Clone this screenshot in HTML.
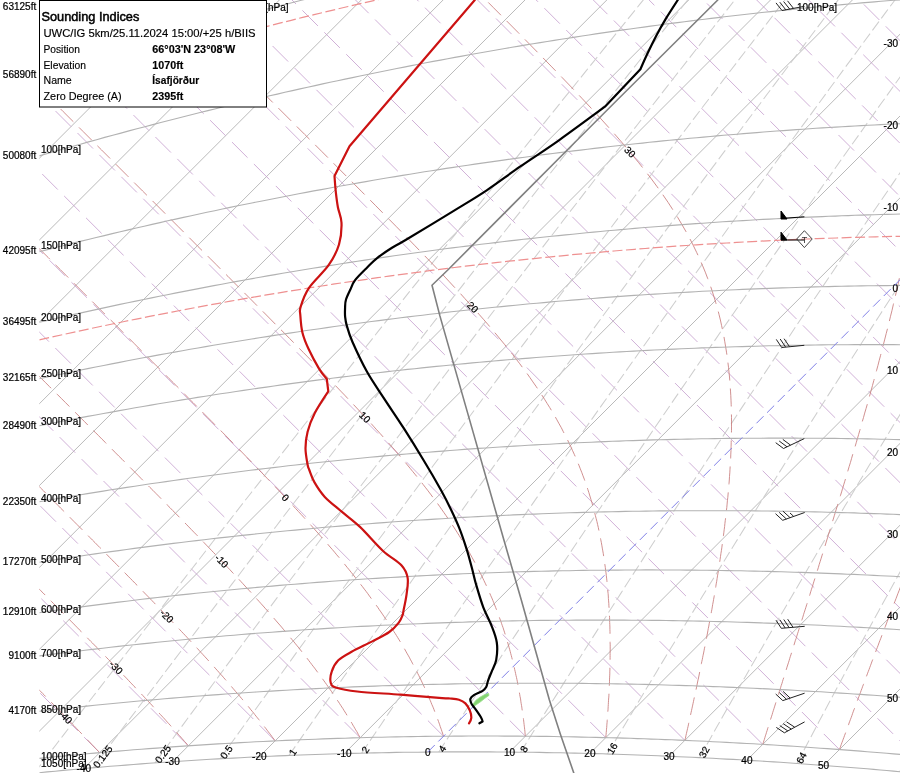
<!DOCTYPE html><html><head><meta charset="utf-8"><style>html,body{margin:0;padding:0;background:#fff;width:900px;height:773px;overflow:hidden}svg{display:block;will-change:transform;font-family:"Liberation Sans",sans-serif}</style></head><body>
<svg width="900" height="773" viewBox="0 0 900 773">
<defs><clipPath id="c"><path d="M39.3 -5 L905 -5 L905 772.2 L905 772.2 L890 770.8 L874.9 769.5 L859.8 768.2 L844.7 767 L829.5 765.8 L814.2 764.7 L799 763.6 L783.6 762.6 L768.3 761.6 L752.9 760.6 L737.4 759.7 L721.9 758.8 L706.4 758 L690.8 757.2 L675.1 756.5 L659.4 755.8 L643.7 755.2 L627.9 754.6 L612 754.1 L596.1 753.7 L580.2 753.2 L564.2 752.9 L548.1 752.6 L532 752.3 L515.8 752.1 L499.6 752 L483.3 751.9 L466.9 751.9 L450.5 751.9 L434.1 752 L417.6 752.2 L401 752.4 L384.3 752.7 L367.6 753 L350.8 753.4 L334 753.9 L317.1 754.4 L300.1 755 L283.1 755.7 L266 756.4 L248.8 757.2 L231.5 758.1 L214.2 759.1 L196.8 760.1 L179.3 761.2 L161.8 762.4 L144.1 763.7 L126.4 765 L108.6 766.4 L90.8 767.9 L72.8 769.5 L54.8 771.2 L39.3 772.7 Z"/></clipPath><clipPath id="c2"><rect x="39.3" y="0" width="900" height="773"/></clipPath></defs>
<g clip-path="url(#c)" fill="none">
<g stroke="#a8a8a8" stroke-width="0.8"><path d="M-1230 1100.2 L-124.8 -5"/><path d="M-1092.7 1044.7 L-43 -5"/><path d="M-962.9 996.8 L38.9 -5"/><path d="M-839.6 955.3 L120.7 -5"/><path d="M-721.8 919.4 L202.6 -5"/><path d="M-608.9 888.3 L284.4 -5"/><path d="M-500.3 861.6 L366.3 -5"/><path d="M-395.5 838.6 L448.1 -5"/><path d="M-294.1 819 L530 -5"/><path d="M-195.7 802.5 L611.8 -5"/><path d="M-100.1 788.8 L693.7 -5"/><path d="M-7 777.5 L775.5 -5"/><path d="M83.8 768.5 L857.4 -5"/><path d="M172.5 761.7 L939.2 -5"/><path d="M259.3 756.7 L1021 -5"/><path d="M344.3 753.6 L1102.9 -5"/><path d="M509.5 752.1 L1266.6 -5"/><path d="M589.9 753.5 L1348.4 -5"/><path d="M669 756.2 L1430.3 -5"/><path d="M746.9 760.2 L1512.1 -5"/><path d="M823.6 765.4 L1594 -5"/><path d="M899.2 771.6 L1675.8 -5"/></g>
<g stroke="#c8a2d0" stroke-width="0.85" stroke-dasharray="22 9"><path d="M-84.2 772.9 L34.3 891.4"/><path d="M8.9 761.6 L34.3 787.1"/><path d="M99.7 752.7 L34.3 687.3"/><path d="M188.4 745.8 L34.3 591.7"/><path d="M275.2 740.9 L34.3 500"/><path d="M360.2 737.7 L34.3 411.8"/><path d="M443.5 736.2 L34.3 327"/><path d="M525.4 736.2 L34.3 245.1"/><path d="M605.8 737.6 L34.3 166.1"/><path d="M684.9 740.4 L34.3 89.8"/><path d="M762.8 744.4 L34.3 15.9"/><path d="M839.4 749.5 L84.9 -5"/><path d="M915 755.8 L154.3 -5"/><path d="M989.6 763 L221.6 -5"/><path d="M1063.2 771.3 L287 -5"/><path d="M1135.9 780.4 L350.5 -5"/><path d="M1207.8 790.4 L412.3 -5"/><path d="M1278.8 801.3 L472.5 -5"/><path d="M1349 812.9 L531.2 -5"/><path d="M1418.5 825.2 L588.3 -5"/><path d="M1487.3 838.3 L644.1 -5"/><path d="M1555.5 852 L698.5 -5"/><path d="M1623 866.3 L751.7 -5"/><path d="M1689.9 881.3 L803.6 -5"/><path d="M1756.2 896.8 L854.4 -5"/><path d="M1822 912.9 L904.1 -5"/><path d="M1887.2 929.5 L952.7 -5"/><path d="M1951.9 946.6 L1000.3 -5"/></g>
<g stroke="#cecece" stroke-width="1.05" stroke-dasharray="11 4"><path d="M34.2 773.2 L41.6 763.5 L49 753.9 L56.4 744.2 L63.8 734.6 L71.2 725 L78.6 715.3 L86 705.7 L93.4 696 L100.9 686.4 L108.3 676.7 L115.7 667.1 L123.2 657.4 L130.6 647.8 L138.1 638.2 L145.5 628.5 L153 618.9 L160.4 609.3 L167.9 599.6 L175.4 590 L182.9 580.4 L190.4 570.7 L197.9 561.1 L205.3 551.5 L212.8 541.8 L220.4 532.2 L227.9 522.6 L235.4 512.9 L242.9 503.3 L250.4 493.7 L258 484.1 L265.5 474.4 L273 464.8 L280.6 455.2 L288.1 445.6 L295.7 436 L303.2 426.3 L310.8 416.7 L318.4 407.1 L325.9 397.5 L333.5 387.9 L341.1 378.2 L348.7 368.6 L356.3 359 L363.9 349.4 L371.5 339.8 L379.1 330.2 L386.7 320.6 L394.3 311 L401.9 301.3 L409.5 291.7 L417.2 282.1 L424.8 272.5 L432.4 262.9 L440.1 253.3 L447.7 243.7 L455.4 234.1 L463 224.5 L470.7 214.9 L478.4 205.3 L486 195.7 L493.7 186.1 L501.4 176.5 L509.1 166.9 L516.7 157.3 L524.4 147.7 L532.1 138.1 L539.8 128.5 L547.5 118.9 L555.2 109.3 L562.9 99.7 L570.7 90.1 L578.4 80.5 L586.1 70.9 L593.8 61.3 L601.6 51.7 L609.3 42.1 L617 32.5 L624.8 22.9 L632.5 13.3 L640.3 3.7 L648 -5.9 L655.8 -15.5 L663.6 -25 L671.3 -34.6 L679.1 -44.2 L686.9 -53.8 L694.7 -63.4 L702.5 -73 L710.2 -82.6 L718 -92.2 L725.8 -101.8 L733.6 -111.3 L741.4 -120.9 L749.3 -130.5 L757.1 -140.1 L764.9 -149.7 L772.7 -159.3 L780.5 -168.8 L788.4 -178.4 L796.2 -188 L804 -197.6 L811.9 -207.2 L819.7 -216.7 L827.6 -226.3 L835.4 -235.9 L843.3 -245.5 L851.1 -255.1 L859 -264.6 L866.8 -274.2 L874.7 -283.8 L882.6 -293.4 L890.5 -302.9 L898.3 -312.5 L906.2 -322.1 L914.1 -331.7 L922 -341.2 L929.9 -350.8 L937.8 -360.4 L945.7 -370 L953.6 -379.5 L961.5 -389.1 L969.4 -398.7 L977.4 -408.3 L985.3 -417.8 L993.2 -427.4 L1001.1 -437 L1009.1 -446.5 L1017 -456.1 L1024.9 -465.7 L1032.9 -475.3"/><path d="M93.1 767.7 L100.3 758.1 L107.6 748.4 L114.9 738.7 L122.1 729 L129.4 719.4 L136.7 709.7 L144 700 L151.3 690.4 L158.6 680.7 L165.9 671 L173.2 661.4 L180.5 651.7 L187.8 642.1 L195.2 632.4 L202.5 622.7 L209.8 613.1 L217.2 603.4 L224.5 593.8 L231.9 584.1 L239.3 574.5 L246.6 564.8 L254 555.1 L261.4 545.5 L268.8 535.8 L276.2 526.2 L283.5 516.5 L290.9 506.9 L298.3 497.3 L305.8 487.6 L313.2 478 L320.6 468.3 L328 458.7 L335.5 449 L342.9 439.4 L350.3 429.8 L357.8 420.1 L365.2 410.5 L372.7 400.8 L380.1 391.2 L387.6 381.6 L395.1 371.9 L402.6 362.3 L410 352.7 L417.5 343 L425 333.4 L432.5 323.8 L440 314.1 L447.5 304.5 L455 294.9 L462.6 285.3 L470.1 275.6 L477.6 266 L485.1 256.4 L492.7 246.8 L500.2 237.1 L507.8 227.5 L515.3 217.9 L522.9 208.3 L530.4 198.6 L538 189 L545.6 179.4 L553.1 169.8 L560.7 160.2 L568.3 150.6 L575.9 140.9 L583.5 131.3 L591.1 121.7 L598.7 112.1 L606.3 102.5 L613.9 92.9 L621.5 83.3 L629.1 73.7 L636.8 64 L644.4 54.4 L652 44.8 L659.7 35.2 L667.3 25.6 L674.9 16 L682.6 6.4 L690.3 -3.2 L697.9 -12.8 L705.6 -22.4 L713.2 -32 L720.9 -41.6 L728.6 -51.2 L736.3 -60.8 L744 -70.4 L751.7 -80 L759.4 -89.6 L767.1 -99.2 L774.8 -108.8 L782.5 -118.4 L790.2 -128 L797.9 -137.6 L805.6 -147.2 L813.3 -156.8 L821.1 -166.4 L828.8 -176 L836.5 -185.6 L844.3 -195.2 L852 -204.8 L859.8 -214.4 L867.5 -224 L875.3 -233.6 L883 -243.1 L890.8 -252.7 L898.6 -262.3 L906.4 -271.9 L914.1 -281.5 L921.9 -291.1 L929.7 -300.7 L937.5 -310.3 L945.3 -319.8 L953.1 -329.4 L960.9 -339 L968.7 -348.6 L976.5 -358.2 L984.3 -367.8 L992.1 -377.4 L1000 -386.9 L1007.8 -396.5 L1015.6 -406.1 L1023.4 -415.7 L1031.3 -425.3 L1039.1 -434.8 L1047 -444.4 L1054.8 -454 L1062.7 -463.6 L1070.5 -473.2 L1078.4 -482.7"/><path d="M155 762.9 L162.1 753.2 L169.2 743.5 L176.3 733.8 L183.5 724.1 L190.6 714.4 L197.8 704.7 L204.9 695 L212.1 685.3 L219.2 675.6 L226.4 665.9 L233.6 656.2 L240.8 646.5 L248 636.8 L255.2 627.2 L262.4 617.5 L269.6 607.8 L276.8 598.1 L284 588.4 L291.2 578.7 L298.5 569.1 L305.7 559.4 L312.9 549.7 L320.2 540 L327.5 530.4 L334.7 520.7 L342 511 L349.3 501.3 L356.5 491.7 L363.8 482 L371.1 472.3 L378.4 462.7 L385.7 453 L393 443.3 L400.3 433.7 L407.6 424 L415 414.4 L422.3 404.7 L429.6 395 L437 385.4 L444.3 375.7 L451.7 366.1 L459 356.4 L466.4 346.8 L473.8 337.1 L481.1 327.4 L488.5 317.8 L495.9 308.1 L503.3 298.5 L510.7 288.8 L518.1 279.2 L525.5 269.6 L532.9 259.9 L540.3 250.3 L547.7 240.6 L555.2 231 L562.6 221.3 L570 211.7 L577.5 202.1 L584.9 192.4 L592.4 182.8 L599.8 173.1 L607.3 163.5 L614.8 153.9 L622.2 144.2 L629.7 134.6 L637.2 125 L644.7 115.3 L652.2 105.7 L659.7 96.1 L667.2 86.4 L674.7 76.8 L682.2 67.2 L689.7 57.6 L697.3 47.9 L704.8 38.3 L712.3 28.7 L719.9 19.1 L727.4 9.4 L734.9 -0.2 L742.5 -9.8 L750 -19.4 L757.6 -29 L765.2 -38.7 L772.7 -48.3 L780.3 -57.9 L787.9 -67.5 L795.5 -77.1 L803.1 -86.7 L810.7 -96.4 L818.3 -106 L825.9 -115.6 L833.5 -125.2 L841.1 -134.8 L848.7 -144.4 L856.3 -154 L864 -163.6 L871.6 -173.3 L879.2 -182.9 L886.9 -192.5 L894.5 -202.1 L902.2 -211.7 L909.8 -221.3 L917.5 -230.9 L925.1 -240.5 L932.8 -250.1 L940.5 -259.7 L948.1 -269.3 L955.8 -278.9 L963.5 -288.5 L971.2 -298.1 L978.9 -307.7 L986.6 -317.3 L994.3 -326.9 L1002 -336.5 L1009.7 -346.1 L1017.4 -355.7 L1025.1 -365.3 L1032.8 -374.9 L1040.6 -384.5 L1048.3 -394.1 L1056 -403.7 L1063.8 -413.3 L1071.5 -422.9 L1079.3 -432.5 L1087 -442.1 L1094.8 -451.6 L1102.5 -461.2 L1110.3 -470.8 L1118 -480.4 L1125.8 -490"/><path d="M220.2 758.8 L227.1 749 L234.1 739.3 L241.1 729.5 L248.1 719.8 L255 710.1 L262 700.4 L269.1 690.6 L276.1 680.9 L283.1 671.2 L290.1 661.5 L297.1 651.7 L304.2 642 L311.2 632.3 L318.3 622.6 L325.3 612.9 L332.4 603.1 L339.5 593.4 L346.5 583.7 L353.6 574 L360.7 564.3 L367.8 554.6 L374.9 544.9 L382 535.2 L389.2 525.5 L396.3 515.8 L403.4 506.1 L410.5 496.4 L417.7 486.7 L424.8 477 L432 467.3 L439.2 457.6 L446.3 447.9 L453.5 438.2 L460.7 428.5 L467.9 418.8 L475.1 409.1 L482.2 399.5 L489.5 389.8 L496.7 380.1 L503.9 370.4 L511.1 360.7 L518.3 351 L525.6 341.4 L532.8 331.7 L540 322 L547.3 312.3 L554.6 302.7 L561.8 293 L569.1 283.3 L576.4 273.6 L583.6 264 L590.9 254.3 L598.2 244.6 L605.5 235 L612.8 225.3 L620.1 215.6 L627.4 206 L634.8 196.3 L642.1 186.7 L649.4 177 L656.8 167.3 L664.1 157.7 L671.5 148 L678.8 138.4 L686.2 128.7 L693.5 119.1 L700.9 109.4 L708.3 99.7 L715.7 90.1 L723 80.4 L730.4 70.8 L737.8 61.1 L745.2 51.5 L752.6 41.9 L760.1 32.2 L767.5 22.6 L774.9 12.9 L782.3 3.3 L789.8 -6.4 L797.2 -16 L804.6 -25.6 L812.1 -35.3 L819.5 -44.9 L827 -54.6 L834.5 -64.2 L841.9 -73.8 L849.4 -83.5 L856.9 -93.1 L864.4 -102.7 L871.9 -112.4 L879.4 -122 L886.9 -131.6 L894.4 -141.2 L901.9 -150.9 L909.4 -160.5 L916.9 -170.1 L924.4 -179.8 L932 -189.4 L939.5 -199 L947 -208.6 L954.6 -218.3 L962.1 -227.9 L969.7 -237.5 L977.2 -247.1 L984.8 -256.7 L992.4 -266.4 L999.9 -276 L1007.5 -285.6 L1015.1 -295.2 L1022.7 -304.8 L1030.3 -314.4 L1037.9 -324.1 L1045.5 -333.7 L1053.1 -343.3 L1060.7 -352.9 L1068.3 -362.5 L1075.9 -372.1 L1083.5 -381.7 L1091.2 -391.3 L1098.8 -400.9 L1106.4 -410.6 L1114.1 -420.2 L1121.7 -429.8 L1129.4 -439.4 L1137 -449 L1144.7 -458.6 L1152.3 -468.2 L1160 -477.8 L1167.7 -487.4 L1175.3 -497"/><path d="M289 755.4 L295.8 745.7 L302.6 735.9 L309.4 726.1 L316.2 716.4 L323 706.6 L329.9 696.8 L336.7 687.1 L343.5 677.3 L350.4 667.5 L357.3 657.8 L364.1 648 L371 638.2 L377.9 628.5 L384.8 618.7 L391.7 609 L398.6 599.2 L405.5 589.5 L412.5 579.7 L419.4 570 L426.3 560.3 L433.3 550.5 L440.2 540.8 L447.2 531 L454.1 521.3 L461.1 511.6 L468.1 501.8 L475.1 492.1 L482.1 482.4 L489.1 472.6 L496.1 462.9 L503.1 453.2 L510.1 443.5 L517.1 433.7 L524.2 424 L531.2 414.3 L538.3 404.6 L545.3 394.9 L552.4 385.1 L559.4 375.4 L566.5 365.7 L573.6 356 L580.7 346.3 L587.8 336.6 L594.9 326.9 L602 317.2 L609.1 307.5 L616.2 297.8 L623.3 288.1 L630.5 278.4 L637.6 268.7 L644.8 259 L651.9 249.3 L659.1 239.6 L666.2 229.9 L673.4 220.2 L680.6 210.5 L687.7 200.8 L694.9 191.1 L702.1 181.4 L709.3 171.7 L716.5 162.1 L723.7 152.4 L731 142.7 L738.2 133 L745.4 123.3 L752.6 113.7 L759.9 104 L767.1 94.3 L774.4 84.6 L781.6 75 L788.9 65.3 L796.2 55.6 L803.5 45.9 L810.7 36.3 L818 26.6 L825.3 16.9 L832.6 7.3 L839.9 -2.4 L847.2 -12.1 L854.6 -21.7 L861.9 -31.4 L869.2 -41 L876.5 -50.7 L883.9 -60.4 L891.2 -70 L898.6 -79.7 L905.9 -89.3 L913.3 -99 L920.6 -108.6 L928 -118.3 L935.4 -127.9 L942.8 -137.6 L950.2 -147.3 L957.6 -156.9 L965 -166.5 L972.4 -176.2 L979.8 -185.8 L987.2 -195.5 L994.6 -205.1 L1002 -214.8 L1009.5 -224.4 L1016.9 -234.1 L1024.3 -243.7 L1031.8 -253.3 L1039.2 -263 L1046.7 -272.6 L1054.1 -282.2 L1061.6 -291.9 L1069.1 -301.5 L1076.6 -311.2 L1084 -320.8 L1091.5 -330.4 L1099 -340 L1106.5 -349.7 L1114 -359.3 L1121.5 -368.9 L1129 -378.6 L1136.5 -388.2 L1144.1 -397.8 L1151.6 -407.4 L1159.1 -417.1 L1166.6 -426.7 L1174.2 -436.3 L1181.7 -445.9 L1189.3 -455.6 L1196.8 -465.2 L1204.4 -474.8 L1212 -484.4 L1219.5 -494 L1227.1 -503.7"/><path d="M361.7 753.1 L368.3 743.3 L375 733.5 L381.6 723.7 L388.2 713.9 L394.9 704 L401.5 694.2 L408.2 684.4 L414.9 674.6 L421.5 664.8 L428.2 655 L434.9 645.2 L441.6 635.4 L448.3 625.6 L455.1 615.8 L461.8 606 L468.5 596.2 L475.3 586.4 L482 576.6 L488.8 566.8 L495.6 557.1 L502.3 547.3 L509.1 537.5 L515.9 527.7 L522.7 517.9 L529.5 508.2 L536.3 498.4 L543.1 488.6 L550 478.9 L556.8 469.1 L563.7 459.3 L570.5 449.6 L577.4 439.8 L584.2 430 L591.1 420.3 L598 410.5 L604.9 400.8 L611.8 391 L618.7 381.3 L625.6 371.5 L632.5 361.8 L639.4 352 L646.4 342.3 L653.3 332.5 L660.2 322.8 L667.2 313.1 L674.2 303.3 L681.1 293.6 L688.1 283.8 L695.1 274.1 L702.1 264.4 L709.1 254.6 L716.1 244.9 L723.1 235.2 L730.1 225.5 L737.1 215.7 L744.1 206 L751.2 196.3 L758.2 186.6 L765.3 176.9 L772.3 167.1 L779.4 157.4 L786.5 147.7 L793.5 138 L800.6 128.3 L807.7 118.6 L814.8 108.9 L821.9 99.2 L829 89.5 L836.1 79.8 L843.2 70.1 L850.4 60.4 L857.5 50.7 L864.6 41 L871.8 31.3 L878.9 21.6 L886.1 11.9 L893.3 2.2 L900.4 -7.5 L907.6 -17.2 L914.8 -26.9 L922 -36.6 L929.2 -46.3 L936.4 -56 L943.6 -65.6 L950.8 -75.3 L958 -85 L965.2 -94.7 L972.5 -104.4 L979.7 -114 L987 -123.7 L994.2 -133.4 L1001.5 -143.1 L1008.7 -152.7 L1016 -162.4 L1023.3 -172.1 L1030.5 -181.8 L1037.8 -191.4 L1045.1 -201.1 L1052.4 -210.8 L1059.7 -220.4 L1067 -230.1 L1074.3 -239.8 L1081.6 -249.4 L1089 -259.1 L1096.3 -268.7 L1103.6 -278.4 L1111 -288.1 L1118.3 -297.7 L1125.7 -307.4 L1133 -317 L1140.4 -326.7 L1147.7 -336.3 L1155.1 -346 L1162.5 -355.6 L1169.9 -365.3 L1177.3 -374.9 L1184.7 -384.6 L1192.1 -394.2 L1199.5 -403.9 L1206.9 -413.5 L1214.3 -423.2 L1221.7 -432.8 L1229.1 -442.5 L1236.6 -452.1 L1244 -461.7 L1251.4 -471.4 L1258.9 -481 L1266.3 -490.7 L1273.8 -500.3 L1281.3 -509.9"/><path d="M438.8 752 L445.2 742.1 L451.6 732.2 L458.1 722.3 L464.5 712.5 L470.9 702.6 L477.4 692.7 L483.9 682.9 L490.3 673 L496.8 663.2 L503.3 653.3 L509.8 643.4 L516.3 633.6 L522.9 623.7 L529.4 613.9 L535.9 604.1 L542.5 594.2 L549 584.4 L555.6 574.5 L562.2 564.7 L568.7 554.9 L575.3 545 L581.9 535.2 L588.5 525.4 L595.2 515.6 L601.8 505.7 L608.4 495.9 L615.1 486.1 L621.7 476.3 L628.4 466.5 L635 456.7 L641.7 446.9 L648.4 437.1 L655.1 427.3 L661.8 417.5 L668.5 407.7 L675.2 397.9 L681.9 388.1 L688.7 378.3 L695.4 368.5 L702.1 358.7 L708.9 348.9 L715.7 339.1 L722.4 329.3 L729.2 319.6 L736 309.8 L742.8 300 L749.6 290.2 L756.4 280.4 L763.2 270.7 L770 260.9 L776.9 251.1 L783.7 241.4 L790.6 231.6 L797.4 221.8 L804.3 212.1 L811.1 202.3 L818 192.6 L824.9 182.8 L831.8 173.1 L838.7 163.3 L845.6 153.5 L852.5 143.8 L859.4 134.1 L866.4 124.3 L873.3 114.6 L880.2 104.8 L887.2 95.1 L894.1 85.3 L901.1 75.6 L908.1 65.9 L915 56.1 L922 46.4 L929 36.7 L936 26.9 L943 17.2 L950 7.5 L957 -2.2 L964.1 -12 L971.1 -21.7 L978.1 -31.4 L985.2 -41.1 L992.2 -50.8 L999.3 -60.6 L1006.3 -70.3 L1013.4 -80 L1020.5 -89.7 L1027.6 -99.4 L1034.7 -109.1 L1041.8 -118.8 L1048.9 -128.5 L1056 -138.2 L1063.1 -147.9 L1070.2 -157.6 L1077.3 -167.3 L1084.5 -177 L1091.6 -186.7 L1098.8 -196.4 L1105.9 -206.1 L1113.1 -215.8 L1120.2 -225.5 L1127.4 -235.2 L1134.6 -244.9 L1141.8 -254.6 L1149 -264.3 L1156.2 -274 L1163.4 -283.7 L1170.6 -293.3 L1177.8 -303 L1185 -312.7 L1192.2 -322.4 L1199.5 -332.1 L1206.7 -341.7 L1214 -351.4 L1221.2 -361.1 L1228.5 -370.8 L1235.7 -380.4 L1243 -390.1 L1250.3 -399.8 L1257.5 -409.5 L1264.8 -419.1 L1272.1 -428.8 L1279.4 -438.5 L1286.7 -448.1 L1294 -457.8 L1301.3 -467.5 L1308.7 -477.1 L1316 -486.8 L1323.3 -496.4 L1330.7 -506.1 L1338 -515.8"/><path d="M520.6 752.2 L526.8 742.2 L533 732.3 L539.2 722.4 L545.4 712.4 L551.6 702.5 L557.9 692.6 L564.1 682.6 L570.4 672.7 L576.6 662.8 L582.9 652.9 L589.2 643 L595.5 633.1 L601.8 623.1 L608.1 613.2 L614.5 603.3 L620.8 593.4 L627.1 583.5 L633.5 573.6 L639.9 563.8 L646.2 553.9 L652.6 544 L659 534.1 L665.4 524.2 L671.8 514.3 L678.3 504.5 L684.7 494.6 L691.1 484.7 L697.6 474.9 L704 465 L710.5 455.1 L717 445.3 L723.5 435.4 L730 425.6 L736.5 415.7 L743 405.9 L749.5 396 L756.1 386.2 L762.6 376.3 L769.2 366.5 L775.7 356.6 L782.3 346.8 L788.9 337 L795.4 327.1 L802 317.3 L808.6 307.5 L815.2 297.7 L821.9 287.8 L828.5 278 L835.1 268.2 L841.8 258.4 L848.4 248.6 L855.1 238.8 L861.8 228.9 L868.4 219.1 L875.1 209.3 L881.8 199.5 L888.5 189.7 L895.2 179.9 L901.9 170.1 L908.7 160.3 L915.4 150.5 L922.1 140.8 L928.9 131 L935.6 121.2 L942.4 111.4 L949.2 101.6 L956 91.8 L962.7 82.1 L969.5 72.3 L976.3 62.5 L983.2 52.7 L990 43 L996.8 33.2 L1003.6 23.4 L1010.5 13.7 L1017.3 3.9 L1024.2 -5.9 L1031 -15.6 L1037.9 -25.4 L1044.8 -35.2 L1051.7 -44.9 L1058.6 -54.7 L1065.5 -64.4 L1072.4 -74.2 L1079.3 -83.9 L1086.2 -93.7 L1093.2 -103.4 L1100.1 -113.1 L1107 -122.9 L1114 -132.6 L1120.9 -142.4 L1127.9 -152.1 L1134.9 -161.8 L1141.9 -171.6 L1148.8 -181.3 L1155.8 -191 L1162.8 -200.8 L1169.8 -210.5 L1176.8 -220.2 L1183.9 -229.9 L1190.9 -239.7 L1197.9 -249.4 L1205 -259.1 L1212 -268.8 L1219.1 -278.5 L1226.1 -288.3 L1233.2 -298 L1240.3 -307.7 L1247.3 -317.4 L1254.4 -327.1 L1261.5 -336.8 L1268.6 -346.5 L1275.7 -356.2 L1282.8 -365.9 L1290 -375.6 L1297.1 -385.3 L1304.2 -395 L1311.3 -404.7 L1318.5 -414.4 L1325.6 -424.1 L1332.8 -433.8 L1340 -443.5 L1347.1 -453.2 L1354.3 -462.9 L1361.5 -472.6 L1368.7 -482.3 L1375.9 -492 L1383.1 -501.7 L1390.3 -511.3 L1397.5 -521"/><path d="M607.4 754 L613.4 744 L619.3 734 L625.3 723.9 L631.3 713.9 L637.2 703.9 L643.2 693.9 L649.2 683.9 L655.3 673.9 L661.3 663.9 L667.3 653.9 L673.4 644 L679.4 634 L685.5 624 L691.6 614 L697.7 604.1 L703.8 594.1 L709.9 584.1 L716 574.2 L722.2 564.2 L728.3 554.2 L734.5 544.3 L740.7 534.3 L746.8 524.4 L753 514.5 L759.2 504.5 L765.5 494.6 L771.7 484.7 L777.9 474.7 L784.1 464.8 L790.4 454.9 L796.7 444.9 L802.9 435 L809.2 425.1 L815.5 415.2 L821.8 405.3 L828.1 395.4 L834.4 385.5 L840.8 375.6 L847.1 365.7 L853.5 355.8 L859.8 345.9 L866.2 336 L872.6 326.1 L879 316.2 L885.4 306.3 L891.8 296.5 L898.2 286.6 L904.6 276.7 L911.1 266.8 L917.5 257 L924 247.1 L930.4 237.2 L936.9 227.4 L943.4 217.5 L949.9 207.7 L956.4 197.8 L962.9 188 L969.4 178.1 L975.9 168.3 L982.5 158.4 L989 148.6 L995.6 138.7 L1002.1 128.9 L1008.7 119.1 L1015.3 109.2 L1021.9 99.4 L1028.5 89.6 L1035.1 79.8 L1041.7 69.9 L1048.3 60.1 L1054.9 50.3 L1061.6 40.5 L1068.2 30.7 L1074.9 20.8 L1081.5 11 L1088.2 1.2 L1094.9 -8.6 L1101.6 -18.4 L1108.3 -28.2 L1115 -38 L1121.7 -47.8 L1128.4 -57.6 L1135.1 -67.4 L1141.9 -77.2 L1148.6 -87 L1155.4 -96.7 L1162.1 -106.5 L1168.9 -116.3 L1175.7 -126.1 L1182.5 -135.9 L1189.3 -145.7 L1196.1 -155.4 L1202.9 -165.2 L1209.7 -175 L1216.5 -184.8 L1223.3 -194.5 L1230.2 -204.3 L1237 -214.1 L1243.9 -223.8 L1250.7 -233.6 L1257.6 -243.3 L1264.5 -253.1 L1271.3 -262.9 L1278.2 -272.6 L1285.1 -282.4 L1292 -292.1 L1298.9 -301.9 L1305.9 -311.6 L1312.8 -321.4 L1319.7 -331.1 L1326.7 -340.8 L1333.6 -350.6 L1340.6 -360.3 L1347.5 -370.1 L1354.5 -379.8 L1361.5 -389.5 L1368.4 -399.3 L1375.4 -409 L1382.4 -418.7 L1389.4 -428.5 L1396.4 -438.2 L1403.5 -447.9 L1410.5 -457.6 L1417.5 -467.4 L1424.5 -477.1 L1431.6 -486.8 L1438.6 -496.5 L1445.7 -506.2 L1452.7 -515.9 L1459.8 -525.7"/><path d="M699.6 757.7 L705.3 747.6 L710.9 737.4 L716.6 727.3 L722.3 717.2 L728 707.2 L733.8 697.1 L739.5 687 L745.2 676.9 L751 666.8 L756.8 656.7 L762.6 646.7 L768.4 636.6 L774.2 626.6 L780 616.5 L785.9 606.4 L791.7 596.4 L797.6 586.4 L803.4 576.3 L809.3 566.3 L815.2 556.2 L821.1 546.2 L827.1 536.2 L833 526.2 L838.9 516.1 L844.9 506.1 L850.9 496.1 L856.8 486.1 L862.8 476.1 L868.8 466.1 L874.8 456.1 L880.9 446.1 L886.9 436.1 L892.9 426.1 L899 416.2 L905.1 406.2 L911.1 396.2 L917.2 386.2 L923.3 376.3 L929.5 366.3 L935.6 356.3 L941.7 346.4 L947.9 336.4 L954 326.5 L960.2 316.5 L966.3 306.6 L972.5 296.6 L978.7 286.7 L984.9 276.7 L991.2 266.8 L997.4 256.9 L1003.6 246.9 L1009.9 237 L1016.1 227.1 L1022.4 217.2 L1028.7 207.3 L1035 197.3 L1041.3 187.4 L1047.6 177.5 L1053.9 167.6 L1060.2 157.7 L1066.6 147.8 L1072.9 137.9 L1079.3 128 L1085.6 118.1 L1092 108.2 L1098.4 98.4 L1104.8 88.5 L1111.2 78.6 L1117.6 68.7 L1124 58.8 L1130.5 49 L1136.9 39.1 L1143.3 29.2 L1149.8 19.4 L1156.3 9.5 L1162.8 -0.4 L1169.2 -10.2 L1175.7 -20.1 L1182.2 -29.9 L1188.8 -39.8 L1195.3 -49.6 L1201.8 -59.5 L1208.4 -69.3 L1214.9 -79.1 L1221.5 -89 L1228 -98.8 L1234.6 -108.7 L1241.2 -118.5 L1247.8 -128.3 L1254.4 -138.1 L1261 -148 L1267.6 -157.8 L1274.2 -167.6 L1280.9 -177.4 L1287.5 -187.2 L1294.2 -197.1 L1300.8 -206.9 L1307.5 -216.7 L1314.2 -226.5 L1320.9 -236.3 L1327.6 -246.1 L1334.3 -255.9 L1341 -265.7 L1347.7 -275.5 L1354.4 -285.3 L1361.1 -295.1 L1367.9 -304.9 L1374.6 -314.7 L1381.4 -324.4 L1388.2 -334.2 L1394.9 -344 L1401.7 -353.8 L1408.5 -363.6 L1415.3 -373.3 L1422.1 -383.1 L1428.9 -392.9 L1435.7 -402.7 L1442.5 -412.4 L1449.4 -422.2 L1456.2 -432 L1463.1 -441.7 L1469.9 -451.5 L1476.8 -461.3 L1483.7 -471 L1490.5 -480.8 L1497.4 -490.5 L1504.3 -500.3 L1511.2 -510 L1518.1 -519.8 L1525 -529.5"/><path d="M797 763.5 L802.3 753.3 L807.7 743 L813.1 732.8 L818.5 722.6 L823.9 712.4 L829.3 702.2 L834.8 692.1 L840.2 681.9 L845.7 671.7 L851.2 661.5 L856.7 651.4 L862.2 641.2 L867.7 631 L873.2 620.9 L878.8 610.7 L884.4 600.6 L889.9 590.5 L895.5 580.3 L901.1 570.2 L906.8 560.1 L912.4 550 L918 539.8 L923.7 529.7 L929.4 519.6 L935.1 509.5 L940.8 499.4 L946.5 489.3 L952.2 479.2 L957.9 469.1 L963.7 459.1 L969.4 449 L975.2 438.9 L981 428.8 L986.8 418.8 L992.6 408.7 L998.4 398.7 L1004.3 388.6 L1010.1 378.6 L1016 368.5 L1021.8 358.5 L1027.7 348.4 L1033.6 338.4 L1039.5 328.4 L1045.5 318.3 L1051.4 308.3 L1057.3 298.3 L1063.3 288.3 L1069.2 278.3 L1075.2 268.3 L1081.2 258.3 L1087.2 248.3 L1093.2 238.3 L1099.2 228.3 L1105.3 218.3 L1111.3 208.3 L1117.4 198.3 L1123.4 188.3 L1129.5 178.4 L1135.6 168.4 L1141.7 158.4 L1147.8 148.4 L1153.9 138.5 L1160.1 128.5 L1166.2 118.6 L1172.4 108.6 L1178.5 98.7 L1184.7 88.7 L1190.9 78.8 L1197.1 68.8 L1203.3 58.9 L1209.5 49 L1215.7 39 L1222 29.1 L1228.2 19.2 L1234.5 9.2 L1240.7 -0.7 L1247 -10.6 L1253.3 -20.5 L1259.6 -30.4 L1265.9 -40.3 L1272.2 -50.2 L1278.6 -60.1 L1284.9 -70 L1291.2 -79.9 L1297.6 -89.8 L1304 -99.7 L1310.3 -109.6 L1316.7 -119.5 L1323.1 -129.4 L1329.5 -139.3 L1335.9 -149.1 L1342.4 -159 L1348.8 -168.9 L1355.2 -178.8 L1361.7 -188.6 L1368.1 -198.5 L1374.6 -208.4 L1381.1 -218.2 L1387.6 -228.1 L1394.1 -237.9 L1400.6 -247.8 L1407.1 -257.6 L1413.6 -267.5 L1420.1 -277.3 L1426.7 -287.2 L1433.2 -297 L1439.8 -306.9 L1446.3 -316.7 L1452.9 -326.5 L1459.5 -336.4 L1466.1 -346.2 L1472.7 -356 L1479.3 -365.8 L1485.9 -375.7 L1492.5 -385.5 L1499.2 -395.3 L1505.8 -405.1 L1512.5 -414.9 L1519.1 -424.7 L1525.8 -434.5 L1532.5 -444.4 L1539.2 -454.2 L1545.8 -464 L1552.5 -473.8 L1559.3 -483.6 L1566 -493.4 L1572.7 -503.2 L1579.4 -513 L1586.2 -522.7 L1592.9 -532.5"/></g>
<g stroke="#c87c7c" stroke-width="0.85" stroke-dasharray="18 8"><path d="M99.7 752.7 L98.4 751.3 L97.1 749.9 L95.8 748.6 L94.5 747.2 L93.2 745.8 L91.8 744.4 L90.5 743 L89.2 741.6 L87.8 740.2 L86.5 738.7 L85.1 737.3 L83.7 735.9 L82.4 734.5 L81 733 L79.6 731.6 L78.2 730.1 L76.8 728.7 L75.4 727.2 L74 725.7 L72.6 724.3 L71.2 722.8 L69.7 721.3 L68.3 719.8 L66.9 718.3 L65.4 716.8 L63.9 715.3 L62.5 713.8 L61 712.3 L59.5 710.7 L58 709.2 L56.5 707.7 L55 706.1 L53.5 704.6 L52 703 L50.5 701.5 L48.9 699.9 L47.4 698.3 L45.8 696.7 L44.3 695.1 L42.7 693.5 L41.1 691.9 L39.5 690.3 L37.9 688.7 L36.3 687.1 L34.7 685.4 L33.1 683.8 L31.5 682.1 L29.9 680.5 L28.2 678.8 L26.6 677.1 L24.9 675.4 L23.2 673.7 L21.6 672 L19.9 670.3 L18.2 668.6 L16.5 666.9 L14.8 665.2 L13 663.4 L11.3 661.7 L9.6 659.9 L7.8 658.2 L6.1 656.4 L4.3 654.6 L2.5 652.8 L0.7 651 L-1.1 649.2 L-2.9 647.4 L-4.7 645.5 L-6.5 643.7 L-8.4 641.8 L-10.2 640 L-12.1 638.1 L-14 636.2 L-15.9 634.3 L-17.8 632.4 L-19.7 630.5 L-21.6 628.6 L-23.5 626.6 L-25.5 624.7 L-27.4 622.7 L-29.4 620.8 L-31.3 618.8 L-33.3 616.8 L-35.3 614.8 L-37.4 612.7 L-39.4 610.7 L-41.4 608.7 L-43.5 606.6 L-45.5 604.5 L-47.6 602.4 L-49.7 600.3 L-51.8 598.2 L-54 596.1 L-56.1 594 L-58.2 591.8 L-60.4 589.6 L-62.6 587.5 L-64.8 585.3 L-67 583 L-69.2 580.8 L-71.5 578.6 L-73.7 576.3 L-76 574 L-78.3 571.7 L-80.6 569.4 L-83 567.1 L-85.3 564.7 L-87.7 562.4 L-90.1 560 L-92.5 557.6 L-94.9 555.1 L-97.3 552.7 L-99.8 550.2 L-102.3 547.7 L-104.8 545.2 L-107.3 542.7 L-109.8 540.2 L-112.4 537.6 L-115 535 L-117.6 532.4 L-120.3 529.8 L-122.9 527.1 L-125.6 524.4 L-128.3 521.7 L-131.1 519 L-133.8 516.2 L-136.6 513.4 L-139.4 510.6 L-142.3 507.7 L-145.1 504.9 L-148 502 L-151 499 L-153.9 496.1 L-156.9 493.1 L-160 490 L-163 487 L-166.1 483.9 L-169.3 480.7 L-172.4 477.6 L-175.6 474.4 L-178.9 471.1 L-182.2 467.8 L-185.5 464.5 L-188.9 461.2 L-192.3 457.7 L-195.7 454.3 L-199.2 450.8 L-202.8 447.2 L-206.4 443.6 L-210 440 L-213.7 436.3 L-217.5 432.5 L-221.3 428.7 L-225.1 424.9 L-229.1 420.9 L-233.1 416.9 L-237.1 412.9 L-241.3 408.8 L-245.5 404.6 L-249.7 400.3 L-254.1 395.9 L-258.5 391.5 L-263 387 L-267.6 382.4 L-272.3 377.7 L-277.1 372.9 L-282 368 L-287 363 L-292.1 357.9 L-297.3 352.7 L-302.7 347.3 L-308.2 341.8 L-313.8 336.2 L-319.6 330.4 L-325.5 324.5 L-331.6 318.4 L-337.9 312.1 L-344.4 305.6 L-351.2 298.9 L-358.1 291.9 L-365.3 284.7 L-372.8 277.2 L-380.6 269.5 L-388.7 261.3 L-397.1 252.9 L-406 244 L-415.4 234.6 L-425.3 224.7 L-435.8 214.2 L-447 203 L-459 191 L-472.1 177.9 L-486.3 163.7 L-502.1 147.9 L-519.9 130.1 L-540.5 109.5"/><path d="M188.4 745.8 L187.1 744.4 L185.9 742.9 L184.6 741.5 L183.3 740 L182.1 738.6 L180.8 737.1 L179.5 735.7 L178.2 734.2 L176.9 732.7 L175.5 731.2 L174.2 729.7 L172.9 728.2 L171.5 726.7 L170.2 725.2 L168.8 723.7 L167.4 722.2 L166.1 720.7 L164.7 719.1 L163.3 717.6 L161.9 716.1 L160.4 714.5 L159 713 L157.6 711.4 L156.1 709.8 L154.7 708.3 L153.2 706.7 L151.8 705.1 L150.3 703.5 L148.8 701.9 L147.3 700.3 L145.8 698.7 L144.3 697.1 L142.8 695.5 L141.2 693.8 L139.7 692.2 L138.1 690.5 L136.6 688.9 L135 687.2 L133.4 685.6 L131.8 683.9 L130.2 682.2 L128.6 680.5 L127 678.8 L125.4 677.1 L123.7 675.4 L122.1 673.7 L120.4 671.9 L118.8 670.2 L117.1 668.5 L115.4 666.7 L113.7 665 L112 663.2 L110.3 661.4 L108.6 659.6 L106.8 657.8 L105.1 656 L103.3 654.2 L101.5 652.4 L99.8 650.6 L98 648.7 L96.2 646.9 L94.4 645 L92.5 643.1 L90.7 641.3 L88.8 639.4 L87 637.5 L85.1 635.6 L83.2 633.7 L81.3 631.7 L79.4 629.8 L77.5 627.8 L75.6 625.9 L73.7 623.9 L71.7 621.9 L69.7 619.9 L67.8 617.9 L65.8 615.9 L63.8 613.9 L61.8 611.9 L59.7 609.8 L57.7 607.7 L55.6 605.7 L53.6 603.6 L51.5 601.5 L49.4 599.4 L47.3 597.2 L45.2 595.1 L43 592.9 L40.9 590.8 L38.7 588.6 L36.5 586.4 L34.3 584.2 L32.1 582 L29.9 579.7 L27.6 577.5 L25.4 575.2 L23.1 572.9 L20.8 570.6 L18.5 568.3 L16.2 566 L13.9 563.6 L11.5 561.3 L9.1 558.9 L6.7 556.5 L4.3 554.1 L1.9 551.6 L-0.6 549.2 L-3 546.7 L-5.5 544.2 L-8 541.7 L-10.6 539.1 L-13.1 536.6 L-15.7 534 L-18.3 531.4 L-20.9 528.8 L-23.5 526.2 L-26.2 523.5 L-28.9 520.8 L-31.6 518.1 L-34.3 515.4 L-37.1 512.6 L-39.8 509.8 L-42.7 507 L-45.5 504.2 L-48.3 501.3 L-51.2 498.4 L-54.1 495.5 L-57.1 492.6 L-60.1 489.6 L-63.1 486.6 L-66.1 483.6 L-69.2 480.5 L-72.3 477.4 L-75.4 474.3 L-78.6 471.1 L-81.8 467.9 L-85 464.7 L-88.3 461.4 L-91.6 458.1 L-94.9 454.7 L-98.3 451.3 L-101.8 447.9 L-105.2 444.4 L-108.7 440.9 L-112.3 437.4 L-115.9 433.7 L-119.6 430.1 L-123.3 426.4 L-127 422.6 L-130.9 418.8 L-134.7 414.9 L-138.7 411 L-142.6 407 L-146.7 403 L-150.8 398.9 L-155 394.7 L-159.2 390.5 L-163.5 386.2 L-167.9 381.8 L-172.4 377.3 L-176.9 372.8 L-181.5 368.1 L-186.2 363.4 L-191.1 358.6 L-196 353.7 L-201 348.7 L-206.1 343.6 L-211.3 338.4 L-216.6 333 L-222.1 327.6 L-227.7 322 L-233.4 316.2 L-239.3 310.3 L-245.4 304.3 L-251.6 298.1 L-258 291.7 L-264.6 285.1 L-271.3 278.3 L-278.4 271.3 L-285.6 264 L-293.1 256.5 L-301 248.7 L-309.1 240.6 L-317.6 232.1 L-326.4 223.2 L-335.7 213.9 L-345.5 204.2 L-355.8 193.8 L-366.8 182.8 L-378.5 171.1 L-391.1 158.6 L-404.7 144.9 L-419.6 130 L-436.1 113.5 L-454.8 94.9 L-476.2 73.4"/><path d="M275.2 740.9 L274.1 739.4 L272.9 737.9 L271.8 736.4 L270.7 734.8 L269.5 733.3 L268.3 731.8 L267.2 730.3 L266 728.7 L264.8 727.2 L263.6 725.6 L262.4 724.1 L261.1 722.5 L259.9 720.9 L258.7 719.4 L257.4 717.8 L256.1 716.2 L254.8 714.6 L253.6 713 L252.3 711.4 L250.9 709.8 L249.6 708.1 L248.3 706.5 L246.9 704.9 L245.6 703.2 L244.2 701.6 L242.8 699.9 L241.4 698.3 L240 696.6 L238.6 694.9 L237.2 693.3 L235.7 691.6 L234.3 689.9 L232.8 688.2 L231.4 686.5 L229.9 684.7 L228.4 683 L226.9 681.3 L225.3 679.5 L223.8 677.8 L222.3 676 L220.7 674.3 L219.1 672.5 L217.5 670.7 L215.9 668.9 L214.3 667.1 L212.7 665.3 L211.1 663.5 L209.4 661.7 L207.8 659.9 L206.1 658 L204.4 656.2 L202.7 654.3 L201 652.5 L199.3 650.6 L197.6 648.7 L195.8 646.8 L194.1 644.9 L192.3 643 L190.5 641.1 L188.7 639.2 L186.9 637.2 L185.1 635.3 L183.2 633.3 L181.4 631.4 L179.5 629.4 L177.6 627.4 L175.7 625.4 L173.8 623.4 L171.9 621.4 L170 619.3 L168 617.3 L166 615.2 L164.1 613.2 L162.1 611.1 L160.1 609 L158 606.9 L156 604.8 L154 602.7 L151.9 600.5 L149.8 598.4 L147.7 596.2 L145.6 594.1 L143.5 591.9 L141.3 589.7 L139.2 587.5 L137 585.2 L134.8 583 L132.6 580.7 L130.4 578.5 L128.1 576.2 L125.9 573.9 L123.6 571.6 L121.3 569.3 L119 566.9 L116.7 564.5 L114.3 562.2 L112 559.8 L109.6 557.4 L107.2 554.9 L104.8 552.5 L102.4 550 L99.9 547.6 L97.4 545.1 L95 542.6 L92.4 540 L89.9 537.5 L87.4 534.9 L84.8 532.3 L82.2 529.7 L79.6 527.1 L76.9 524.4 L74.3 521.8 L71.6 519.1 L68.9 516.3 L66.2 513.6 L63.4 510.8 L60.6 508.1 L57.8 505.2 L55 502.4 L52.2 499.6 L49.3 496.7 L46.4 493.8 L43.5 490.8 L40.5 487.9 L37.5 484.9 L34.5 481.8 L31.4 478.8 L28.4 475.7 L25.3 472.6 L22.1 469.5 L19 466.3 L15.7 463.1 L12.5 459.8 L9.2 456.6 L5.9 453.2 L2.6 449.9 L-0.8 446.5 L-4.2 443.1 L-7.7 439.6 L-11.2 436.1 L-14.7 432.6 L-18.3 429 L-22 425.3 L-25.6 421.7 L-29.4 417.9 L-33.1 414.2 L-37 410.3 L-40.8 406.5 L-44.8 402.5 L-48.8 398.5 L-52.8 394.5 L-56.9 390.4 L-61.1 386.2 L-65.3 382 L-69.6 377.7 L-74 373.3 L-78.4 368.9 L-82.9 364.4 L-87.5 359.8 L-92.2 355.1 L-96.9 350.4 L-101.8 345.5 L-106.7 340.6 L-111.7 335.6 L-116.9 330.4 L-122.1 325.2 L-127.4 319.9 L-132.9 314.4 L-138.5 308.8 L-144.2 303.1 L-150.1 297.2 L-156.1 291.2 L-162.2 285.1 L-168.5 278.8 L-175 272.3 L-181.7 265.6 L-188.6 258.7 L-195.7 251.6 L-203.1 244.2 L-210.6 236.7 L-218.5 228.8 L-226.7 220.6 L-235.2 212.1 L-244.1 203.2 L-253.3 194 L-263.1 184.2 L-273.3 174 L-284.1 163.2 L-295.6 151.7 L-307.8 139.5 L-321 126.3 L-335.2 112.1 L-350.8 96.5 L-368.1 79.2 L-387.6 59.7 L-410 37.3"/><path d="M360.2 737.7 L359.3 736.2 L358.4 734.6 L357.6 733 L356.7 731.4 L355.7 729.9 L354.8 728.3 L353.9 726.7 L352.9 725.1 L352 723.4 L351 721.8 L350 720.2 L349.1 718.6 L348.1 716.9 L347 715.3 L346 713.6 L345 712 L343.9 710.3 L342.9 708.6 L341.8 707 L340.7 705.3 L339.6 703.6 L338.5 701.9 L337.3 700.2 L336.2 698.4 L335 696.7 L333.9 695 L332.7 693.3 L331.5 691.5 L330.3 689.8 L329 688 L327.8 686.2 L326.5 684.4 L325.3 682.7 L324 680.9 L322.7 679.1 L321.4 677.3 L320 675.4 L318.7 673.6 L317.3 671.8 L315.9 669.9 L314.6 668.1 L313.1 666.2 L311.7 664.4 L310.3 662.5 L308.8 660.6 L307.4 658.7 L305.9 656.8 L304.4 654.9 L302.8 653 L301.3 651 L299.8 649.1 L298.2 647.1 L296.6 645.2 L295 643.2 L293.4 641.2 L291.7 639.2 L290.1 637.3 L288.4 635.2 L286.7 633.2 L285 631.2 L283.3 629.2 L281.6 627.1 L279.8 625 L278 623 L276.2 620.9 L274.4 618.8 L272.6 616.7 L270.7 614.6 L268.9 612.5 L267 610.3 L265.1 608.2 L263.2 606 L261.2 603.8 L259.3 601.7 L257.3 599.5 L255.3 597.2 L253.3 595 L251.3 592.8 L249.2 590.5 L247.1 588.3 L245 586 L242.9 583.7 L240.8 581.4 L238.7 579.1 L236.5 576.8 L234.3 574.4 L232.1 572.1 L229.9 569.7 L227.6 567.3 L225.3 564.9 L223.1 562.5 L220.7 560.1 L218.4 557.6 L216.1 555.2 L213.7 552.7 L211.3 550.2 L208.9 547.7 L206.4 545.1 L204 542.6 L201.5 540 L199 537.4 L196.5 534.8 L193.9 532.2 L191.4 529.6 L188.8 526.9 L186.2 524.2 L183.5 521.5 L180.9 518.8 L178.2 516 L175.5 513.3 L172.7 510.5 L170 507.7 L167.2 504.9 L164.4 502 L161.5 499.1 L158.7 496.2 L155.8 493.3 L152.9 490.3 L149.9 487.4 L146.9 484.4 L143.9 481.3 L140.9 478.3 L137.9 475.2 L134.8 472.1 L131.6 468.9 L128.5 465.8 L125.3 462.6 L122.1 459.3 L118.8 456.1 L115.5 452.8 L112.2 449.4 L108.9 446.1 L105.5 442.6 L102 439.2 L98.6 435.7 L95.1 432.2 L91.5 428.7 L87.9 425.1 L84.3 421.4 L80.6 417.7 L76.9 414 L73.1 410.3 L69.3 406.4 L65.5 402.6 L61.6 398.7 L57.6 394.7 L53.6 390.7 L49.5 386.6 L45.4 382.5 L41.2 378.3 L37 374.1 L32.7 369.7 L28.3 365.4 L23.8 360.9 L19.3 356.4 L14.8 351.8 L10.1 347.2 L5.4 342.5 L0.6 337.6 L-4.3 332.7 L-9.3 327.7 L-14.4 322.7 L-19.6 317.5 L-24.9 312.2 L-30.3 306.8 L-35.7 301.3 L-41.4 295.7 L-47.1 290 L-53 284.1 L-59 278.1 L-65.1 272 L-71.4 265.7 L-77.9 259.2 L-84.5 252.6 L-91.3 245.8 L-98.3 238.7 L-105.6 231.5 L-113 224.1 L-120.7 216.4 L-128.7 208.4 L-137 200.1 L-145.5 191.5 L-154.5 182.6 L-163.8 173.3 L-173.5 163.6 L-183.7 153.4 L-194.4 142.6 L-205.8 131.3 L-217.8 119.2 L-230.7 106.4 L-244.5 92.6 L-259.5 77.6 L-275.8 61.2 L-294 43.1 L-314.4 22.7 L-338 -0.9"/><path d="M443.5 736.2 L443 734.6 L442.5 733 L441.9 731.3 L441.4 729.7 L440.8 728.1 L440.2 726.4 L439.7 724.8 L439.1 723.1 L438.5 721.5 L437.9 719.8 L437.2 718.1 L436.6 716.4 L436 714.7 L435.3 713 L434.6 711.3 L434 709.6 L433.3 707.8 L432.6 706.1 L431.8 704.4 L431.1 702.6 L430.4 700.8 L429.6 699.1 L428.9 697.3 L428.1 695.5 L427.3 693.7 L426.5 691.9 L425.7 690.1 L424.9 688.3 L424 686.4 L423.2 684.6 L422.3 682.8 L421.4 680.9 L420.5 679 L419.6 677.2 L418.7 675.3 L417.7 673.4 L416.8 671.5 L415.8 669.6 L414.8 667.7 L413.8 665.7 L412.7 663.8 L411.7 661.8 L410.6 659.9 L409.6 657.9 L408.5 655.9 L407.3 653.9 L406.2 651.9 L405.1 649.9 L403.9 647.9 L402.7 645.9 L401.5 643.8 L400.3 641.8 L399 639.7 L397.8 637.7 L396.5 635.6 L395.2 633.5 L393.8 631.4 L392.5 629.3 L391.1 627.1 L389.7 625 L388.3 622.8 L386.9 620.7 L385.4 618.5 L383.9 616.3 L382.4 614.1 L380.9 611.9 L379.3 609.7 L377.8 607.4 L376.2 605.2 L374.5 602.9 L372.9 600.6 L371.2 598.4 L369.5 596.1 L367.8 593.7 L366.1 591.4 L364.3 589.1 L362.5 586.7 L360.7 584.4 L358.8 582 L357 579.6 L355.1 577.2 L353.1 574.7 L351.2 572.3 L349.2 569.8 L347.2 567.4 L345.2 564.9 L343.1 562.4 L341 559.9 L338.9 557.3 L336.7 554.8 L334.6 552.2 L332.4 549.6 L330.1 547 L327.9 544.4 L325.6 541.8 L323.3 539.1 L320.9 536.5 L318.6 533.8 L316.2 531.1 L313.7 528.3 L311.3 525.6 L308.8 522.8 L306.2 520 L303.7 517.2 L301.1 514.4 L298.5 511.6 L295.8 508.7 L293.2 505.8 L290.5 502.9 L287.7 500 L284.9 497 L282.1 494 L279.3 491 L276.4 488 L273.5 485 L270.6 481.9 L267.6 478.8 L264.6 475.7 L261.6 472.5 L258.5 469.3 L255.4 466.1 L252.3 462.9 L249.1 459.6 L245.9 456.3 L242.7 453 L239.4 449.6 L236.1 446.2 L232.7 442.8 L229.3 439.3 L225.9 435.8 L222.4 432.3 L218.9 428.7 L215.3 425.1 L211.8 421.5 L208.1 417.8 L204.4 414.1 L200.7 410.3 L196.9 406.5 L193.1 402.7 L189.2 398.8 L185.3 394.8 L181.4 390.8 L177.3 386.8 L173.3 382.7 L169.1 378.6 L165 374.4 L160.7 370.1 L156.4 365.8 L152.1 361.5 L147.7 357 L143.2 352.5 L138.6 348 L134 343.3 L129.3 338.6 L124.5 333.9 L119.7 329 L114.8 324.1 L109.8 319.1 L104.7 314 L99.5 308.8 L94.2 303.5 L88.9 298.2 L83.4 292.7 L77.8 287.1 L72.1 281.4 L66.3 275.6 L60.4 269.7 L54.3 263.6 L48.1 257.4 L41.7 251.1 L35.2 244.6 L28.6 237.9 L21.7 231.1 L14.7 224 L7.5 216.8 L0.1 209.4 L-7.6 201.8 L-15.4 193.9 L-23.6 185.7 L-32 177.3 L-40.8 168.6 L-49.8 159.5 L-59.3 150 L-69.1 140.2 L-79.4 129.9 L-90.2 119.1 L-101.6 107.7 L-113.6 95.7 L-126.3 83 L-139.9 69.4 L-154.5 54.8 L-170.4 39 L-187.7 21.7 L-206.8 2.5 L-228.4 -19.1 L-253.4 -44.1"/><path d="M525.4 736.2 L525.2 734.6 L525 732.9 L524.9 731.2 L524.7 729.6 L524.5 727.9 L524.3 726.2 L524.1 724.5 L523.9 722.8 L523.7 721.1 L523.5 719.4 L523.3 717.7 L523 715.9 L522.8 714.2 L522.6 712.4 L522.3 710.7 L522 708.9 L521.8 707.1 L521.5 705.4 L521.2 703.6 L520.9 701.8 L520.7 700 L520.4 698.1 L520 696.3 L519.7 694.5 L519.4 692.6 L519.1 690.8 L518.7 688.9 L518.4 687 L518 685.1 L517.6 683.2 L517.3 681.3 L516.9 679.4 L516.5 677.5 L516 675.5 L515.6 673.6 L515.2 671.6 L514.7 669.6 L514.3 667.7 L513.8 665.7 L513.3 663.7 L512.8 661.7 L512.3 659.6 L511.8 657.6 L511.3 655.6 L510.7 653.5 L510.2 651.4 L509.6 649.3 L509 647.2 L508.4 645.1 L507.8 643 L507.2 640.9 L506.5 638.8 L505.9 636.6 L505.2 634.4 L504.5 632.2 L503.8 630.1 L503.1 627.8 L502.3 625.6 L501.5 623.4 L500.8 621.1 L499.9 618.9 L499.1 616.6 L498.3 614.3 L497.4 612 L496.5 609.7 L495.6 607.4 L494.7 605 L493.7 602.7 L492.8 600.3 L491.8 597.9 L490.7 595.5 L489.7 593.1 L488.6 590.6 L487.5 588.2 L486.4 585.7 L485.2 583.2 L484 580.7 L482.8 578.2 L481.6 575.7 L480.3 573.1 L479 570.6 L477.7 568 L476.4 565.4 L475 562.8 L473.5 560.1 L472.1 557.5 L470.6 554.8 L469.1 552.1 L467.5 549.4 L465.9 546.7 L464.3 543.9 L462.6 541.2 L460.9 538.4 L459.2 535.6 L457.4 532.8 L455.6 529.9 L453.7 527 L451.8 524.2 L449.9 521.2 L447.9 518.3 L445.9 515.4 L443.8 512.4 L441.7 509.4 L439.6 506.4 L437.4 503.3 L435.1 500.3 L432.8 497.2 L430.5 494.1 L428.1 490.9 L425.7 487.8 L423.2 484.6 L420.7 481.4 L418.1 478.1 L415.5 474.9 L412.8 471.6 L410.1 468.3 L407.3 464.9 L404.5 461.5 L401.6 458.1 L398.7 454.7 L395.7 451.2 L392.7 447.7 L389.6 444.2 L386.5 440.6 L383.3 437.1 L380 433.4 L376.7 429.8 L373.4 426.1 L370 422.3 L366.5 418.6 L363 414.8 L359.4 410.9 L355.8 407 L352.1 403.1 L348.4 399.2 L344.6 395.1 L340.7 391.1 L336.8 387 L332.9 382.9 L328.8 378.7 L324.7 374.4 L320.6 370.1 L316.4 365.8 L312.1 361.4 L307.7 356.9 L303.3 352.4 L298.8 347.9 L294.3 343.2 L289.6 338.5 L285 333.8 L280.2 329 L275.3 324.1 L270.4 319.1 L265.4 314 L260.3 308.9 L255.1 303.7 L249.9 298.4 L244.5 293 L239.1 287.6 L233.5 282 L227.9 276.3 L222.1 270.6 L216.3 264.7 L210.3 258.7 L204.2 252.6 L197.9 246.4 L191.6 240 L185.1 233.5 L178.4 226.8 L171.6 220 L164.6 213 L157.5 205.9 L150.1 198.5 L142.6 191 L134.9 183.3 L126.9 175.3 L118.7 167.1 L110.2 158.6 L101.5 149.9 L92.4 140.8 L83.1 131.5 L73.3 121.7 L63.2 111.6 L52.6 101 L41.6 90 L30 78.4 L17.8 66.2 L4.9 53.3 L-8.8 39.6 L-23.4 25 L-39 9.3 L-56 -7.6 L-74.6 -26.2 L-95.2 -46.8 L-118.4 -70 L-145.2 -96.8"/><path d="M605.8 737.6 L605.9 736 L606.1 734.3 L606.2 732.6 L606.4 730.9 L606.5 729.2 L606.7 727.5 L606.8 725.8 L606.9 724.1 L607.1 722.3 L607.2 720.6 L607.3 718.8 L607.5 717.1 L607.6 715.3 L607.7 713.5 L607.8 711.7 L608 709.9 L608.1 708.1 L608.2 706.3 L608.3 704.5 L608.4 702.7 L608.5 700.8 L608.6 699 L608.8 697.1 L608.9 695.2 L609 693.3 L609 691.4 L609.1 689.5 L609.2 687.6 L609.3 685.7 L609.4 683.8 L609.5 681.8 L609.5 679.9 L609.6 677.9 L609.7 675.9 L609.8 673.9 L609.8 671.9 L609.9 669.9 L609.9 667.9 L610 665.8 L610 663.8 L610 661.7 L610.1 659.6 L610.1 657.6 L610.1 655.5 L610.1 653.4 L610.2 651.2 L610.2 649.1 L610.2 646.9 L610.2 644.8 L610.1 642.6 L610.1 640.4 L610.1 638.2 L610.1 636 L610 633.8 L610 631.5 L609.9 629.3 L609.9 627 L609.8 624.7 L609.7 622.4 L609.6 620.1 L609.6 617.7 L609.4 615.4 L609.3 613 L609.2 610.6 L609.1 608.2 L608.9 605.8 L608.8 603.4 L608.6 600.9 L608.4 598.5 L608.3 596 L608.1 593.5 L607.8 591 L607.6 588.4 L607.4 585.9 L607.1 583.3 L606.9 580.7 L606.6 578.1 L606.3 575.5 L606 572.8 L605.6 570.2 L605.3 567.5 L604.9 564.8 L604.5 562 L604.1 559.3 L603.7 556.5 L603.3 553.7 L602.8 550.9 L602.3 548.1 L601.8 545.2 L601.3 542.3 L600.7 539.4 L600.2 536.5 L599.6 533.5 L598.9 530.5 L598.3 527.5 L597.6 524.5 L596.9 521.4 L596.1 518.4 L595.3 515.3 L594.5 512.1 L593.7 509 L592.8 505.8 L591.9 502.6 L590.9 499.3 L589.9 496 L588.9 492.7 L587.8 489.4 L586.7 486 L585.5 482.7 L584.3 479.2 L583 475.8 L581.7 472.3 L580.3 468.8 L578.9 465.2 L577.4 461.6 L575.9 458 L574.3 454.4 L572.6 450.7 L570.9 446.9 L569.1 443.2 L567.3 439.4 L565.3 435.5 L563.3 431.7 L561.3 427.7 L559.1 423.8 L556.9 419.8 L554.6 415.7 L552.2 411.7 L549.7 407.5 L547.1 403.4 L544.5 399.2 L541.7 394.9 L538.9 390.6 L536 386.3 L532.9 381.9 L529.8 377.4 L526.6 372.9 L523.2 368.4 L519.8 363.8 L516.2 359.1 L512.6 354.4 L508.8 349.7 L504.9 344.8 L500.9 340 L496.8 335 L492.6 330 L488.3 324.9 L483.9 319.8 L479.3 314.6 L474.6 309.3 L469.8 304 L464.9 298.6 L459.9 293 L454.7 287.5 L449.4 281.8 L444 276 L438.5 270.2 L432.8 264.2 L427 258.2 L421.1 252.1 L415 245.8 L408.8 239.4 L402.5 232.9 L396 226.3 L389.4 219.6 L382.6 212.7 L375.7 205.7 L368.6 198.5 L361.3 191.2 L353.8 183.7 L346.2 176 L338.3 168.1 L330.3 160 L322 151.7 L313.5 143.2 L304.7 134.4 L295.7 125.4 L286.4 116.1 L276.8 106.5 L266.8 96.5 L256.5 86.2 L245.8 75.5 L234.6 64.3 L223 52.7 L210.8 40.5 L198.1 27.7 L184.7 14.3 L170.5 0.1 L155.4 -14.9 L139.3 -31 L122.1 -48.3 L103.4 -66.9 L82.9 -87.4 L60.3 -110 L34.8 -135.6 L5.3 -165.1"/><path d="M684.9 740.4 L685.3 738.7 L685.7 737 L686 735.3 L686.4 733.6 L686.8 731.9 L687.2 730.2 L687.6 728.4 L688 726.7 L688.4 724.9 L688.7 723.2 L689.1 721.4 L689.5 719.6 L689.9 717.8 L690.3 716 L690.7 714.2 L691.1 712.4 L691.5 710.6 L691.9 708.8 L692.3 706.9 L692.7 705.1 L693.1 703.2 L693.5 701.3 L693.9 699.4 L694.3 697.5 L694.7 695.6 L695.1 693.7 L695.6 691.8 L696 689.9 L696.4 687.9 L696.8 686 L697.2 684 L697.6 682 L698 680 L698.5 678 L698.9 676 L699.3 674 L699.7 671.9 L700.1 669.9 L700.6 667.8 L701 665.7 L701.4 663.6 L701.8 661.5 L702.3 659.4 L702.7 657.3 L703.1 655.2 L703.6 653 L704 650.8 L704.4 648.7 L704.9 646.5 L705.3 644.3 L705.7 642 L706.2 639.8 L706.6 637.6 L707 635.3 L707.5 633 L707.9 630.7 L708.3 628.4 L708.8 626.1 L709.2 623.7 L709.7 621.4 L710.1 619 L710.5 616.6 L711 614.2 L711.4 611.8 L711.9 609.3 L712.3 606.9 L712.7 604.4 L713.2 601.9 L713.6 599.4 L714.1 596.8 L714.5 594.3 L714.9 591.7 L715.4 589.1 L715.8 586.5 L716.2 583.9 L716.7 581.3 L717.1 578.6 L717.5 575.9 L718 573.2 L718.4 570.5 L718.8 567.7 L719.3 564.9 L719.7 562.1 L720.1 559.3 L720.5 556.5 L720.9 553.6 L721.4 550.7 L721.8 547.8 L722.2 544.8 L722.6 541.9 L723 538.9 L723.4 535.9 L723.8 532.8 L724.2 529.7 L724.6 526.6 L724.9 523.5 L725.3 520.3 L725.7 517.2 L726 513.9 L726.4 510.7 L726.8 507.4 L727.1 504.1 L727.4 500.8 L727.8 497.4 L728.1 494 L728.4 490.5 L728.7 487.1 L729 483.6 L729.3 480 L729.5 476.4 L729.8 472.8 L730 469.2 L730.2 465.5 L730.5 461.7 L730.7 457.9 L730.8 454.1 L731 450.3 L731.1 446.3 L731.2 442.4 L731.3 438.4 L731.4 434.4 L731.5 430.3 L731.5 426.1 L731.5 421.9 L731.5 417.7 L731.4 413.4 L731.3 409.1 L731.2 404.7 L731 400.2 L730.8 395.7 L730.5 391.1 L730.2 386.5 L729.9 381.8 L729.5 377 L729 372.2 L728.5 367.3 L727.9 362.4 L727.3 357.3 L726.5 352.2 L725.7 347.1 L724.8 341.8 L723.9 336.5 L722.8 331.1 L721.6 325.6 L720.4 320 L719 314.4 L717.5 308.6 L715.8 302.8 L714 296.9 L712.1 290.8 L710 284.7 L707.7 278.5 L705.3 272.2 L702.6 265.7 L699.8 259.2 L696.7 252.5 L693.4 245.7 L689.9 238.8 L686.1 231.8 L682 224.7 L677.7 217.4 L673 210 L668.1 202.4 L662.8 194.7 L657.2 186.8 L651.3 178.8 L645 170.6 L638.4 162.3 L631.4 153.8 L624.1 145 L616.4 136.1 L608.3 127 L599.8 117.6 L591 108 L581.8 98.2 L572.2 88 L562.2 77.6 L551.8 66.9 L541 55.8 L529.7 44.3 L518 32.4 L505.8 20.1 L493.1 7.3 L479.8 -6.1 L465.8 -20.1 L451.2 -34.7 L435.8 -50.2 L419.5 -66.4 L402.2 -83.7 L383.7 -102.2 L363.9 -122 L342.4 -143.5 L318.9 -167 L292.9 -193 L263.6 -222.3 L229.7 -256.2"/><path d="M762.8 744.4 L763.3 742.7 L763.8 741 L764.4 739.3 L764.9 737.5 L765.4 735.8 L766 734.1 L766.5 732.3 L767.1 730.6 L767.6 728.8 L768.2 727 L768.7 725.3 L769.3 723.5 L769.9 721.7 L770.4 719.9 L771 718 L771.6 716.2 L772.2 714.4 L772.7 712.5 L773.3 710.7 L773.9 708.8 L774.5 706.9 L775.1 705 L775.7 703.1 L776.3 701.2 L776.9 699.3 L777.5 697.4 L778.1 695.4 L778.7 693.5 L779.3 691.5 L780 689.6 L780.6 687.6 L781.2 685.6 L781.9 683.6 L782.5 681.5 L783.1 679.5 L783.8 677.5 L784.4 675.4 L785.1 673.3 L785.7 671.3 L786.4 669.2 L787 667.1 L787.7 665 L788.4 662.8 L789.1 660.7 L789.7 658.5 L790.4 656.3 L791.1 654.2 L791.8 652 L792.5 649.7 L793.2 647.5 L793.9 645.3 L794.6 643 L795.3 640.7 L796.1 638.5 L796.8 636.2 L797.5 633.8 L798.3 631.5 L799 629.2 L799.7 626.8 L800.5 624.4 L801.2 622 L802 619.6 L802.8 617.2 L803.5 614.7 L804.3 612.2 L805.1 609.8 L805.9 607.3 L806.7 604.7 L807.5 602.2 L808.3 599.6 L809.1 597.1 L809.9 594.5 L810.7 591.8 L811.5 589.2 L812.4 586.6 L813.2 583.9 L814 581.2 L814.9 578.5 L815.7 575.7 L816.6 573 L817.5 570.2 L818.4 567.4 L819.2 564.5 L820.1 561.7 L821 558.8 L821.9 555.9 L822.8 553 L823.7 550 L824.7 547 L825.6 544 L826.5 541 L827.5 537.9 L828.4 534.8 L829.4 531.7 L830.4 528.6 L831.3 525.4 L832.3 522.2 L833.3 519 L834.3 515.7 L835.3 512.4 L836.3 509.1 L837.4 505.7 L838.4 502.3 L839.4 498.9 L840.5 495.4 L841.6 491.9 L842.6 488.4 L843.7 484.8 L844.8 481.2 L845.9 477.6 L847 473.9 L848.1 470.1 L849.2 466.4 L850.4 462.6 L851.5 458.7 L852.6 454.8 L853.8 450.9 L855 446.9 L856.2 442.8 L857.4 438.7 L858.6 434.6 L859.8 430.4 L861 426.2 L862.2 421.9 L863.5 417.5 L864.7 413.1 L866 408.7 L867.3 404.2 L868.6 399.6 L869.9 394.9 L871.2 390.2 L872.5 385.4 L873.8 380.6 L875.2 375.7 L876.5 370.7 L877.9 365.6 L879.2 360.5 L880.6 355.3 L882 350 L883.4 344.6 L884.8 339.1 L886.2 333.6 L887.7 327.9 L889.1 322.2 L890.5 316.3 L892 310.4 L893.4 304.3 L894.9 298.1 L896.3 291.9 L897.8 285.5 L899.2 278.9 L900.7 272.3 L902.1 265.5 L903.6 258.6 L905 251.5 L906.4 244.3 L907.8 236.9 L909.2 229.4 L910.6 221.7 L911.9 213.8 L913.2 205.7 L914.4 197.4 L915.6 188.9 L916.8 180.2 L917.8 171.3 L918.8 162.1 L919.6 152.7 L920.4 143 L921 133.1 L921.4 122.8 L921.6 112.2 L921.6 101.3 L921.3 90.1 L920.7 78.4 L919.7 66.4 L918.2 54 L916.1 41.1 L913.4 27.7 L910 13.8 L905.6 -0.6 L900.1 -15.5 L893.4 -31.1 L885.3 -47.3 L875.5 -64.2 L864 -81.9 L850.6 -100.3 L835.1 -119.7 L817.6 -140.1 L798.1 -161.6 L776.5 -184.5 L752.6 -209.1 L726.5 -235.6 L697.7 -264.6 L665.7 -296.6 L629.5 -332.8 L587.8 -374.6"/><path d="M839.4 749.5 L840.1 747.8 L840.7 746.1 L841.3 744.4 L841.9 742.7 L842.6 740.9 L843.2 739.2 L843.9 737.4 L844.5 735.6 L845.2 733.9 L845.8 732.1 L846.5 730.3 L847.1 728.5 L847.8 726.7 L848.5 724.9 L849.1 723 L849.8 721.2 L850.5 719.3 L851.2 717.5 L851.9 715.6 L852.5 713.7 L853.2 711.8 L853.9 709.9 L854.7 708 L855.4 706.1 L856.1 704.2 L856.8 702.2 L857.5 700.3 L858.3 698.3 L859 696.3 L859.7 694.4 L860.5 692.4 L861.2 690.4 L862 688.3 L862.7 686.3 L863.5 684.3 L864.3 682.2 L865 680.1 L865.8 678 L866.6 675.9 L867.4 673.8 L868.2 671.7 L869 669.6 L869.8 667.4 L870.6 665.3 L871.4 663.1 L872.2 660.9 L873.1 658.7 L873.9 656.5 L874.7 654.3 L875.6 652 L876.4 649.8 L877.3 647.5 L878.2 645.2 L879 642.9 L879.9 640.6 L880.8 638.3 L881.7 635.9 L882.6 633.5 L883.5 631.2 L884.4 628.8 L885.4 626.3 L886.3 623.9 L887.2 621.5 L888.2 619 L889.1 616.5 L890.1 614 L891 611.5 L892 608.9 L893 606.4 L894 603.8 L895 601.2 L896 598.6 L897 596 L898 593.3 L899.1 590.6 L900.1 587.9 L901.2 585.2 L902.2 582.5 L903.3 579.7 L904.4 576.9 L905.5 574.1 L906.6 571.3 L907.7 568.4 L908.8 565.5 L909.9 562.6 L911.1 559.7 L912.2 556.8 L913.4 553.8 L914.6 550.8 L915.7 547.7 L916.9 544.7 L918.2 541.6 L919.4 538.5 L920.6 535.3 L921.9 532.2 L923.1 529 L924.4 525.7 L925.7 522.5 L927 519.2 L928.3 515.8 L929.6 512.5 L931 509.1 L932.3 505.7 L933.7 502.2 L935.1 498.7 L936.5 495.2 L937.9 491.6 L939.3 488 L940.8 484.4 L942.2 480.7 L943.7 477 L945.2 473.2 L946.8 469.4 L948.3 465.5 L949.9 461.6 L951.4 457.7 L953 453.7 L954.6 449.7 L956.3 445.6 L957.9 441.5 L959.6 437.3 L961.3 433.1 L963.1 428.8 L964.8 424.4 L966.6 420 L968.4 415.6 L970.2 411.1 L972.1 406.5 L973.9 401.9 L975.8 397.2 L977.8 392.4 L979.7 387.6 L981.7 382.7 L983.8 377.7 L985.8 372.6 L987.9 367.5 L990 362.3 L992.2 357 L994.4 351.6 L996.6 346.2 L998.9 340.6 L1001.2 335 L1003.5 329.3 L1005.9 323.4 L1008.3 317.5 L1010.8 311.5 L1013.3 305.3 L1015.9 299 L1018.5 292.6 L1021.2 286.1 L1023.9 279.5 L1026.7 272.7 L1029.5 265.8 L1032.4 258.8 L1035.4 251.5 L1038.4 244.2 L1041.5 236.6 L1044.7 228.9 L1047.9 221.1 L1051.3 213 L1054.6 204.7 L1058.1 196.2 L1061.7 187.5 L1065.4 178.6 L1069.1 169.4 L1073 159.9 L1076.9 150.2 L1081 140.2 L1085.2 129.9 L1089.5 119.3 L1094 108.3 L1098.6 96.9 L1103.3 85.1 L1108.2 72.9 L1113.2 60.2 L1118.5 47 L1123.9 33.3 L1129.5 19 L1135.3 4 L1141.3 -11.7 L1147.5 -28.1 L1154 -45.4 L1160.8 -63.7 L1167.8 -83 L1175 -103.6 L1182.5 -125.5 L1190.2 -148.9 L1198.2 -174.2 L1206.2 -201.5 L1214.1 -231.3 L1221.6 -264 L1228.2 -300.2 L1232.5 -340.8 L1232.2 -386.7 L1222.4 -439.2 L1194.1 -499.8"/></g>
</g>
<g clip-path="url(#c2)" fill="none">
<g stroke="#b2b2b2" stroke-width="1.1"><path d="M39.3 772.7 L47.2 771.9 L55.2 771.2 L63.1 770.4 L71 769.7 L78.8 769 L86.7 768.3 L94.5 767.6 L102.3 767 L110.2 766.3 L118 765.7 L125.7 765.1 L133.5 764.5 L141.2 763.9 L149 763.3 L156.7 762.8 L164.4 762.2 L172.1 761.7 L179.7 761.2 L187.4 760.7 L195 760.2 L202.7 759.8 L210.3 759.3 L217.9 758.9 L225.5 758.5 L233 758.1 L240.6 757.7 L248.2 757.3 L255.7 756.9 L263.2 756.6 L270.7 756.2 L278.2 755.9 L285.7 755.6 L293.1 755.3 L300.6 755 L308 754.7 L315.4 754.5 L322.9 754.2 L330.2 754 L337.6 753.8 L345 753.6 L352.4 753.4 L359.7 753.2 L367 753 L374.4 752.9 L381.7 752.7 L389 752.6 L396.3 752.4 L403.5 752.3 L410.8 752.2 L418.1 752.2 L425.3 752.1 L432.5 752 L439.7 752 L446.9 751.9 L454.1 751.9 L461.3 751.9 L468.5 751.9 L475.6 751.9 L482.8 751.9 L489.9 751.9 L497 752 L504.2 752 L511.3 752.1 L518.4 752.2 L525.4 752.2 L532.5 752.3 L539.6 752.4 L546.6 752.6 L553.7 752.7 L560.7 752.8 L567.7 753 L574.7 753.1 L581.7 753.3 L588.7 753.5 L595.7 753.6 L602.6 753.8 L609.6 754.1 L616.5 754.3 L623.5 754.5 L630.4 754.7 L637.3 755 L644.2 755.2 L651.1 755.5 L658 755.8 L664.9 756.1 L671.8 756.4 L678.6 756.7 L685.5 757 L692.3 757.3 L699.1 757.6 L706 758 L712.8 758.3 L719.6 758.7 L726.4 759.1 L733.2 759.4 L739.9 759.8 L746.7 760.2 L753.5 760.6 L760.2 761 L767 761.5 L773.7 761.9 L780.4 762.3 L787.1 762.8 L793.8 763.3 L800.5 763.7 L807.2 764.2 L813.9 764.7 L820.6 765.2 L827.2 765.7 L833.9 766.2 L840.5 766.7 L847.2 767.2 L853.8 767.8 L860.4 768.3 L867 768.8 L873.7 769.4 L880.3 770 L886.8 770.5 L893.4 771.1 L900 771.7"/><path d="M39.3 758.4 L47.2 757.6 L55.2 756.8 L63.1 756.1 L71 755.3 L78.9 754.6 L86.7 753.8 L94.6 753.1 L102.4 752.4 L110.2 751.8 L118 751.1 L125.8 750.5 L133.6 749.8 L141.3 749.2 L149 748.6 L156.8 748.1 L164.5 747.5 L172.2 746.9 L179.8 746.4 L187.5 745.9 L195.1 745.4 L202.8 744.9 L210.4 744.4 L218 743.9 L225.6 743.5 L233.2 743.1 L240.7 742.6 L248.3 742.2 L255.8 741.8 L263.3 741.5 L270.8 741.1 L278.3 740.7 L285.8 740.4 L293.3 740.1 L300.7 739.8 L308.1 739.5 L315.6 739.2 L323 738.9 L330.4 738.6 L337.8 738.4 L345.1 738.2 L352.5 737.9 L359.8 737.7 L367.2 737.5 L374.5 737.3 L381.8 737.2 L389.1 737 L396.4 736.9 L403.7 736.7 L410.9 736.6 L418.2 736.5 L425.4 736.4 L432.7 736.3 L439.9 736.2 L447.1 736.2 L454.3 736.1 L461.5 736.1 L468.6 736 L475.8 736 L482.9 736 L490.1 736 L497.2 736 L504.3 736.1 L511.4 736.1 L518.5 736.1 L525.6 736.2 L532.6 736.3 L539.7 736.4 L546.7 736.4 L553.8 736.5 L560.8 736.7 L567.8 736.8 L574.8 736.9 L581.8 737.1 L588.8 737.2 L595.8 737.4 L602.8 737.6 L609.7 737.7 L616.7 737.9 L623.6 738.1 L630.5 738.3 L637.4 738.6 L644.3 738.8 L651.2 739.1 L658.1 739.3 L665 739.6 L671.9 739.8 L678.7 740.1 L685.6 740.4 L692.4 740.7 L699.2 741 L706.1 741.3 L712.9 741.7 L719.7 742 L726.5 742.4 L733.2 742.7 L740 743.1 L746.8 743.5 L753.5 743.8 L760.3 744.2 L767 744.6 L773.8 745 L780.5 745.5 L787.2 745.9 L793.9 746.3 L800.6 746.8 L807.3 747.2 L813.9 747.7 L820.6 748.2 L827.3 748.6 L833.9 749.1 L840.6 749.6 L847.2 750.1 L853.8 750.6 L860.5 751.1 L867.1 751.7 L873.7 752.2 L880.3 752.8 L886.8 753.3 L893.4 753.9 L900 754.4"/><path d="M39.3 711.3 L47.3 710.4 L55.2 709.5 L63.1 708.7 L71.1 707.8 L78.9 707 L86.8 706.1 L94.7 705.3 L102.5 704.5 L110.4 703.8 L118.2 703 L126 702.3 L133.8 701.5 L141.5 700.8 L149.3 700.1 L157 699.5 L164.7 698.8 L172.4 698.1 L180.1 697.5 L187.8 696.9 L195.4 696.3 L203.1 695.7 L210.7 695.1 L218.3 694.6 L225.9 694 L233.5 693.5 L241.1 693 L248.6 692.5 L256.2 692 L263.7 691.5 L271.2 691.1 L278.7 690.6 L286.2 690.2 L293.7 689.8 L301.1 689.4 L308.6 689 L316 688.6 L323.4 688.3 L330.8 687.9 L338.2 687.6 L345.6 687.3 L353 686.9 L360.3 686.6 L367.6 686.4 L375 686.1 L382.3 685.8 L389.6 685.6 L396.9 685.4 L404.2 685.1 L411.4 684.9 L418.7 684.7 L425.9 684.5 L433.1 684.4 L440.4 684.2 L447.6 684.1 L454.7 683.9 L461.9 683.8 L469.1 683.7 L476.3 683.6 L483.4 683.5 L490.5 683.4 L497.7 683.3 L504.8 683.3 L511.9 683.2 L519 683.2 L526 683.2 L533.1 683.2 L540.2 683.2 L547.2 683.2 L554.2 683.2 L561.3 683.2 L568.3 683.3 L575.3 683.3 L582.3 683.4 L589.2 683.5 L596.2 683.6 L603.2 683.7 L610.1 683.8 L617.1 683.9 L624 684 L630.9 684.1 L637.8 684.3 L644.7 684.4 L651.6 684.6 L658.5 684.8 L665.4 685 L672.2 685.2 L679.1 685.4 L685.9 685.6 L692.7 685.8 L699.6 686.1 L706.4 686.3 L713.2 686.6 L720 686.8 L726.7 687.1 L733.5 687.4 L740.3 687.7 L747 688 L753.8 688.3 L760.5 688.6 L767.3 688.9 L774 689.2 L780.7 689.6 L787.4 689.9 L794.1 690.3 L800.8 690.7 L807.4 691.1 L814.1 691.5 L820.8 691.8 L827.4 692.3 L834.1 692.7 L840.7 693.1 L847.3 693.5 L853.9 694 L860.5 694.4 L867.1 694.9 L873.7 695.3 L880.3 695.8 L886.9 696.3 L893.4 696.8 L900 697.3"/><path d="M39.3 655.9 L47.3 654.9 L55.3 653.9 L63.2 652.9 L71.1 651.9 L79.1 651 L87 650 L94.8 649.1 L102.7 648.2 L110.6 647.3 L118.4 646.4 L126.2 645.5 L134 644.7 L141.8 643.9 L149.5 643.1 L157.3 642.3 L165 641.5 L172.7 640.7 L180.5 640 L188.1 639.2 L195.8 638.5 L203.5 637.8 L211.1 637.1 L218.7 636.5 L226.3 635.8 L233.9 635.2 L241.5 634.5 L249.1 633.9 L256.6 633.3 L264.2 632.7 L271.7 632.2 L279.2 631.6 L286.7 631.1 L294.2 630.6 L301.6 630 L309.1 629.5 L316.5 629.1 L324 628.6 L331.4 628.1 L338.8 627.7 L346.1 627.3 L353.5 626.8 L360.9 626.4 L368.2 626.1 L375.5 625.7 L382.9 625.3 L390.2 625 L397.5 624.6 L404.7 624.3 L412 624 L419.3 623.7 L426.5 623.4 L433.7 623.1 L440.9 622.9 L448.1 622.6 L455.3 622.4 L462.5 622.2 L469.7 621.9 L476.8 621.7 L484 621.5 L491.1 621.4 L498.2 621.2 L505.3 621 L512.4 620.9 L519.5 620.8 L526.6 620.7 L533.7 620.5 L540.7 620.4 L547.8 620.4 L554.8 620.3 L561.8 620.2 L568.8 620.2 L575.8 620.1 L582.8 620.1 L589.8 620.1 L596.7 620.1 L603.7 620.1 L610.6 620.1 L617.6 620.1 L624.5 620.1 L631.4 620.2 L638.3 620.2 L645.2 620.3 L652.1 620.4 L658.9 620.4 L665.8 620.5 L672.7 620.6 L679.5 620.7 L686.3 620.9 L693.1 621 L700 621.1 L706.8 621.3 L713.6 621.5 L720.3 621.6 L727.1 621.8 L733.9 622 L740.6 622.2 L747.4 622.4 L754.1 622.6 L760.8 622.9 L767.5 623.1 L774.2 623.4 L780.9 623.6 L787.6 623.9 L794.3 624.1 L801 624.4 L807.6 624.7 L814.3 625 L820.9 625.3 L827.6 625.7 L834.2 626 L840.8 626.3 L847.4 626.7 L854 627 L860.6 627.4 L867.2 627.7 L873.8 628.1 L880.4 628.5 L886.9 628.9 L893.5 629.3 L900 629.7"/><path d="M39.3 612.7 L47.3 611.5 L55.3 610.4 L63.3 609.3 L71.2 608.2 L79.2 607.2 L87.1 606.1 L95 605.1 L102.8 604.1 L110.7 603.1 L118.6 602.1 L126.4 601.2 L134.2 600.2 L142 599.3 L149.8 598.4 L157.5 597.5 L165.3 596.6 L173 595.8 L180.7 594.9 L188.4 594.1 L196.1 593.3 L203.8 592.5 L211.4 591.7 L219.1 591 L226.7 590.2 L234.3 589.5 L241.9 588.8 L249.5 588.1 L257 587.4 L264.6 586.7 L272.1 586.1 L279.6 585.4 L287.1 584.8 L294.6 584.2 L302.1 583.6 L309.5 583 L317 582.4 L324.4 581.9 L331.8 581.3 L339.2 580.8 L346.6 580.3 L354 579.8 L361.3 579.3 L368.7 578.8 L376 578.4 L383.3 577.9 L390.6 577.5 L397.9 577.1 L405.2 576.6 L412.5 576.2 L419.7 575.9 L427 575.5 L434.2 575.1 L441.4 574.8 L448.6 574.5 L455.8 574.1 L463 573.8 L470.2 573.5 L477.3 573.3 L484.5 573 L491.6 572.7 L498.7 572.5 L505.8 572.2 L512.9 572 L520 571.8 L527.1 571.6 L534.1 571.4 L541.2 571.3 L548.2 571.1 L555.2 570.9 L562.3 570.8 L569.3 570.7 L576.2 570.5 L583.2 570.4 L590.2 570.3 L597.2 570.2 L604.1 570.2 L611 570.1 L618 570.1 L624.9 570 L631.8 570 L638.7 570 L645.6 569.9 L652.4 569.9 L659.3 570 L666.2 570 L673 570 L679.8 570 L686.7 570.1 L693.5 570.1 L700.3 570.2 L707.1 570.3 L713.9 570.4 L720.6 570.5 L727.4 570.6 L734.1 570.7 L740.9 570.8 L747.6 571 L754.4 571.1 L761.1 571.3 L767.8 571.4 L774.5 571.6 L781.2 571.8 L787.8 572 L794.5 572.2 L801.2 572.4 L807.8 572.6 L814.5 572.9 L821.1 573.1 L827.7 573.4 L834.3 573.6 L840.9 573.9 L847.5 574.2 L854.1 574.4 L860.7 574.7 L867.3 575 L873.8 575.4 L880.4 575.7 L886.9 576 L893.5 576.3 L900 576.7"/><path d="M39.3 562.3 L47.3 561 L55.3 559.8 L63.3 558.6 L71.3 557.4 L79.3 556.2 L87.2 555 L95.1 553.9 L103 552.8 L110.9 551.6 L118.8 550.6 L126.6 549.5 L134.4 548.4 L142.3 547.4 L150.1 546.4 L157.8 545.4 L165.6 544.4 L173.3 543.4 L181.1 542.5 L188.8 541.5 L196.5 540.6 L204.2 539.7 L211.8 538.8 L219.5 537.9 L227.1 537.1 L234.7 536.2 L242.3 535.4 L249.9 534.6 L257.5 533.8 L265 533 L272.6 532.3 L280.1 531.5 L287.6 530.8 L295.1 530.1 L302.6 529.4 L310 528.7 L317.5 528 L324.9 527.3 L332.3 526.7 L339.7 526.1 L347.1 525.4 L354.5 524.8 L361.9 524.3 L369.2 523.7 L376.6 523.1 L383.9 522.6 L391.2 522 L398.5 521.5 L405.8 521 L413 520.5 L420.3 520 L427.5 519.6 L434.8 519.1 L442 518.7 L449.2 518.2 L456.4 517.8 L463.6 517.4 L470.7 517 L477.9 516.6 L485 516.3 L492.2 515.9 L499.3 515.6 L506.4 515.3 L513.5 514.9 L520.6 514.6 L527.6 514.3 L534.7 514.1 L541.7 513.8 L548.8 513.5 L555.8 513.3 L562.8 513 L569.8 512.8 L576.8 512.6 L583.8 512.4 L590.7 512.2 L597.7 512 L604.6 511.9 L611.5 511.7 L618.5 511.6 L625.4 511.4 L632.3 511.3 L639.2 511.2 L646 511.1 L652.9 511 L659.8 510.9 L666.6 510.9 L673.4 510.8 L680.3 510.8 L687.1 510.7 L693.9 510.7 L700.7 510.7 L707.5 510.7 L714.2 510.7 L721 510.7 L727.7 510.7 L734.5 510.7 L741.2 510.8 L747.9 510.8 L754.7 510.9 L761.4 511 L768.1 511 L774.7 511.1 L781.4 511.2 L788.1 511.3 L794.7 511.5 L801.4 511.6 L808 511.7 L814.7 511.9 L821.3 512 L827.9 512.2 L834.5 512.4 L841.1 512.6 L847.7 512.7 L854.2 512.9 L860.8 513.2 L867.4 513.4 L873.9 513.6 L880.4 513.8 L887 514.1 L893.5 514.3 L900 514.6"/><path d="M39.3 501.8 L47.4 500.4 L55.4 499 L63.4 497.6 L71.4 496.3 L79.4 495 L87.4 493.6 L95.3 492.4 L103.2 491.1 L111.1 489.8 L119 488.6 L126.9 487.4 L134.8 486.2 L142.6 485 L150.4 483.8 L158.2 482.7 L166 481.6 L173.7 480.5 L181.5 479.4 L189.2 478.3 L196.9 477.2 L204.6 476.2 L212.3 475.2 L220 474.2 L227.6 473.2 L235.3 472.2 L242.9 471.2 L250.5 470.3 L258 469.4 L265.6 468.5 L273.2 467.6 L280.7 466.7 L288.2 465.8 L295.7 465 L303.2 464.1 L310.7 463.3 L318.1 462.5 L325.6 461.7 L333 461 L340.4 460.2 L347.8 459.5 L355.2 458.7 L362.6 458 L369.9 457.3 L377.3 456.6 L384.6 455.9 L391.9 455.3 L399.2 454.6 L406.5 454 L413.8 453.4 L421 452.8 L428.3 452.2 L435.5 451.6 L442.7 451.1 L449.9 450.5 L457.1 450 L464.3 449.4 L471.5 448.9 L478.6 448.4 L485.8 448 L492.9 447.5 L500 447 L507.1 446.6 L514.2 446.1 L521.3 445.7 L528.3 445.3 L535.4 444.9 L542.4 444.5 L549.4 444.2 L556.5 443.8 L563.5 443.4 L570.5 443.1 L577.4 442.8 L584.4 442.5 L591.4 442.2 L598.3 441.9 L605.2 441.6 L612.2 441.3 L619.1 441.1 L626 440.8 L632.9 440.6 L639.7 440.4 L646.6 440.1 L653.5 439.9 L660.3 439.8 L667.2 439.6 L674 439.4 L680.8 439.2 L687.6 439.1 L694.4 439 L701.2 438.8 L707.9 438.7 L714.7 438.6 L721.4 438.5 L728.2 438.4 L734.9 438.4 L741.6 438.3 L748.3 438.2 L755 438.2 L761.7 438.2 L768.4 438.1 L775.1 438.1 L781.7 438.1 L788.4 438.1 L795 438.1 L801.7 438.2 L808.3 438.2 L814.9 438.2 L821.5 438.3 L828.1 438.4 L834.7 438.4 L841.2 438.5 L847.8 438.6 L854.4 438.7 L860.9 438.8 L867.4 438.9 L874 439 L880.5 439.2 L887 439.3 L893.5 439.5 L900 439.6"/><path d="M39.3 425.8 L47.4 424.1 L55.5 422.6 L63.5 421 L71.6 419.5 L79.6 417.9 L87.6 416.4 L95.6 415 L103.5 413.5 L111.5 412.1 L119.4 410.6 L127.3 409.2 L135.2 407.8 L143 406.5 L150.9 405.1 L158.7 403.8 L166.5 402.5 L174.3 401.2 L182.1 399.9 L189.8 398.7 L197.6 397.4 L205.3 396.2 L213 395 L220.7 393.8 L228.3 392.7 L236 391.5 L243.6 390.4 L251.2 389.3 L258.8 388.1 L266.4 387.1 L274 386 L281.5 384.9 L289 383.9 L296.6 382.9 L304.1 381.9 L311.5 380.9 L319 379.9 L326.5 379 L333.9 378 L341.3 377.1 L348.7 376.2 L356.1 375.3 L363.5 374.4 L370.9 373.5 L378.2 372.7 L385.5 371.9 L392.9 371 L400.2 370.2 L407.5 369.4 L414.7 368.7 L422 367.9 L429.2 367.1 L436.5 366.4 L443.7 365.7 L450.9 365 L458.1 364.3 L465.3 363.6 L472.4 362.9 L479.6 362.3 L486.7 361.6 L493.8 361 L500.9 360.4 L508 359.8 L515.1 359.2 L522.2 358.6 L529.3 358.1 L536.3 357.5 L543.3 357 L550.4 356.5 L557.4 356 L564.4 355.5 L571.4 355 L578.3 354.5 L585.3 354 L592.2 353.6 L599.2 353.1 L606.1 352.7 L613 352.3 L619.9 351.9 L626.8 351.5 L633.7 351.1 L640.5 350.8 L647.4 350.4 L654.2 350 L661.1 349.7 L667.9 349.4 L674.7 349.1 L681.5 348.8 L688.3 348.5 L695 348.2 L701.8 347.9 L708.6 347.7 L715.3 347.4 L722 347.2 L728.8 347 L735.5 346.8 L742.2 346.6 L748.9 346.4 L755.5 346.2 L762.2 346 L768.9 345.8 L775.5 345.7 L782.2 345.6 L788.8 345.4 L795.4 345.3 L802 345.2 L808.6 345.1 L815.2 345 L821.8 344.9 L828.4 344.8 L834.9 344.8 L841.5 344.7 L848 344.7 L854.5 344.6 L861.1 344.6 L867.6 344.6 L874.1 344.6 L880.6 344.6 L887.1 344.6 L893.5 344.6 L900 344.7"/><path d="M39.3 378.7 L47.4 377 L55.5 375.3 L63.6 373.6 L71.7 371.9 L79.7 370.3 L87.7 368.6 L95.7 367 L103.7 365.5 L111.7 363.9 L119.6 362.4 L127.5 360.8 L135.4 359.3 L143.3 357.8 L151.2 356.4 L159 354.9 L166.8 353.5 L174.6 352.1 L182.4 350.7 L190.2 349.3 L198 348 L205.7 346.6 L213.4 345.3 L221.1 344 L228.8 342.7 L236.4 341.5 L244.1 340.2 L251.7 339 L259.3 337.8 L266.9 336.6 L274.5 335.4 L282 334.2 L289.6 333.1 L297.1 332 L304.6 330.8 L312.1 329.7 L319.6 328.7 L327 327.6 L334.5 326.5 L341.9 325.5 L349.3 324.5 L356.7 323.5 L364.1 322.5 L371.5 321.5 L378.8 320.6 L386.2 319.6 L393.5 318.7 L400.8 317.8 L408.1 316.9 L415.4 316 L422.6 315.2 L429.9 314.3 L437.1 313.5 L444.3 312.6 L451.5 311.8 L458.7 311 L465.9 310.3 L473.1 309.5 L480.2 308.7 L487.3 308 L494.5 307.3 L501.6 306.6 L508.7 305.9 L515.7 305.2 L522.8 304.5 L529.9 303.8 L536.9 303.2 L543.9 302.6 L551 301.9 L558 301.3 L565 300.7 L571.9 300.1 L578.9 299.6 L585.9 299 L592.8 298.5 L599.7 297.9 L606.6 297.4 L613.5 296.9 L620.4 296.4 L627.3 295.9 L634.2 295.4 L641 295 L647.9 294.5 L654.7 294.1 L661.5 293.7 L668.4 293.3 L675.2 292.9 L681.9 292.5 L688.7 292.1 L695.5 291.7 L702.2 291.3 L709 291 L715.7 290.7 L722.4 290.3 L729.1 290 L735.8 289.7 L742.5 289.4 L749.2 289.1 L755.9 288.9 L762.5 288.6 L769.2 288.4 L775.8 288.1 L782.4 287.9 L789.1 287.7 L795.7 287.5 L802.3 287.3 L808.8 287.1 L815.4 286.9 L822 286.7 L828.5 286.6 L835.1 286.4 L841.6 286.3 L848.1 286.1 L854.7 286 L861.2 285.9 L867.7 285.8 L874.1 285.7 L880.6 285.6 L887.1 285.6 L893.6 285.5 L900 285.4"/><path d="M39.3 322.3 L47.5 320.5 L55.6 318.6 L63.7 316.8 L71.8 314.9 L79.9 313.1 L87.9 311.4 L95.9 309.6 L103.9 307.9 L111.9 306.1 L119.9 304.4 L127.8 302.8 L135.8 301.1 L143.7 299.5 L151.6 297.9 L159.4 296.3 L167.3 294.7 L175.1 293.1 L182.9 291.6 L190.7 290.1 L198.5 288.6 L206.2 287.1 L213.9 285.6 L221.7 284.2 L229.3 282.8 L237 281.4 L244.7 280 L252.3 278.6 L259.9 277.3 L267.5 275.9 L275.1 274.6 L282.7 273.3 L290.3 272 L297.8 270.8 L305.3 269.5 L312.8 268.3 L320.3 267.1 L327.8 265.9 L335.2 264.7 L342.7 263.5 L350.1 262.4 L357.5 261.2 L364.9 260.1 L372.2 259 L379.6 257.9 L386.9 256.9 L394.3 255.8 L401.6 254.8 L408.9 253.7 L416.1 252.7 L423.4 251.7 L430.7 250.8 L437.9 249.8 L445.1 248.8 L452.3 247.9 L459.5 247 L466.7 246.1 L473.8 245.2 L481 244.3 L488.1 243.5 L495.2 242.6 L502.3 241.8 L509.4 240.9 L516.5 240.1 L523.6 239.3 L530.6 238.6 L537.7 237.8 L544.7 237 L551.7 236.3 L558.7 235.6 L565.7 234.9 L572.7 234.2 L579.6 233.5 L586.6 232.8 L593.5 232.1 L600.4 231.5 L607.3 230.8 L614.2 230.2 L621.1 229.6 L628 229 L634.8 228.4 L641.7 227.8 L648.5 227.3 L655.3 226.7 L662.2 226.2 L669 225.6 L675.7 225.1 L682.5 224.6 L689.3 224.1 L696 223.6 L702.8 223.2 L709.5 222.7 L716.2 222.3 L722.9 221.8 L729.6 221.4 L736.3 221 L743 220.6 L749.6 220.2 L756.3 219.8 L762.9 219.4 L769.6 219.1 L776.2 218.7 L782.8 218.4 L789.4 218.1 L796 217.7 L802.6 217.4 L809.1 217.1 L815.7 216.9 L822.2 216.6 L828.8 216.3 L835.3 216.1 L841.8 215.8 L848.3 215.6 L854.8 215.3 L861.3 215.1 L867.8 214.9 L874.2 214.7 L880.7 214.5 L887.1 214.4 L893.6 214.2 L900 214"/><path d="M39.3 251.7 L47.5 249.6 L55.7 247.5 L63.8 245.5 L72 243.4 L80.1 241.4 L88.2 239.5 L96.2 237.5 L104.3 235.6 L112.3 233.6 L120.3 231.8 L128.3 229.9 L136.2 228 L144.2 226.2 L152.1 224.4 L160 222.6 L167.8 220.8 L175.7 219.1 L183.5 217.4 L191.3 215.7 L199.1 214 L206.9 212.3 L214.7 210.7 L222.4 209 L230.1 207.4 L237.8 205.8 L245.5 204.3 L253.1 202.7 L260.8 201.2 L268.4 199.7 L276 198.2 L283.6 196.7 L291.2 195.2 L298.7 193.8 L306.2 192.4 L313.8 190.9 L321.3 189.6 L328.7 188.2 L336.2 186.8 L343.6 185.5 L351.1 184.2 L358.5 182.9 L365.9 181.6 L373.3 180.3 L380.6 179 L388 177.8 L395.3 176.6 L402.6 175.4 L409.9 174.2 L417.2 173 L424.5 171.8 L431.7 170.7 L438.9 169.6 L446.2 168.4 L453.4 167.4 L460.6 166.3 L467.7 165.2 L474.9 164.1 L482 163.1 L489.2 162.1 L496.3 161.1 L503.4 160.1 L510.5 159.1 L517.5 158.1 L524.6 157.2 L531.6 156.2 L538.7 155.3 L545.7 154.4 L552.7 153.5 L559.7 152.6 L566.7 151.8 L573.6 150.9 L580.6 150.1 L587.5 149.2 L594.4 148.4 L601.3 147.6 L608.2 146.8 L615.1 146 L622 145.3 L628.9 144.5 L635.7 143.8 L642.5 143.1 L649.4 142.3 L656.2 141.6 L663 140.9 L669.7 140.3 L676.5 139.6 L683.3 139 L690 138.3 L696.8 137.7 L703.5 137.1 L710.2 136.5 L716.9 135.9 L723.6 135.3 L730.3 134.7 L736.9 134.2 L743.6 133.6 L750.2 133.1 L756.8 132.6 L763.5 132 L770.1 131.5 L776.7 131 L783.3 130.6 L789.8 130.1 L796.4 129.6 L802.9 129.2 L809.5 128.8 L816 128.3 L822.5 127.9 L829.1 127.5 L835.6 127.1 L842 126.7 L848.5 126.4 L855 126 L861.5 125.6 L867.9 125.3 L874.3 125 L880.8 124.6 L887.2 124.3 L893.6 124 L900 123.7"/><path d="M39.3 155.9 L47.6 153.5 L55.8 151.1 L64 148.8 L72.2 146.5 L80.4 144.2 L88.5 141.9 L96.6 139.7 L104.7 137.4 L112.8 135.2 L120.9 133.1 L128.9 130.9 L136.9 128.8 L144.9 126.7 L152.8 124.6 L160.8 122.5 L168.7 120.5 L176.6 118.5 L184.4 116.5 L192.3 114.5 L200.1 112.5 L207.9 110.6 L215.7 108.7 L223.5 106.8 L231.2 104.9 L239 103.1 L246.7 101.2 L254.3 99.4 L262 97.6 L269.7 95.8 L277.3 94.1 L284.9 92.3 L292.5 90.6 L300.1 88.9 L307.6 87.3 L315.1 85.6 L322.7 83.9 L330.1 82.3 L337.6 80.7 L345.1 79.1 L352.5 77.6 L360 76 L367.4 74.5 L374.7 73 L382.1 71.5 L389.5 70 L396.8 68.5 L404.1 67.1 L411.4 65.6 L418.7 64.2 L426 62.8 L433.2 61.4 L440.5 60.1 L447.7 58.7 L454.9 57.4 L462.1 56.1 L469.3 54.8 L476.4 53.5 L483.6 52.2 L490.7 51 L497.8 49.7 L504.9 48.5 L512 47.3 L519 46.1 L526.1 44.9 L533.1 43.8 L540.2 42.6 L547.2 41.5 L554.2 40.4 L561.1 39.2 L568.1 38.2 L575 37.1 L582 36 L588.9 35 L595.8 33.9 L602.7 32.9 L609.6 31.9 L616.4 30.9 L623.3 29.9 L630.1 29 L637 28 L643.8 27.1 L650.6 26.1 L657.4 25.2 L664.1 24.3 L670.9 23.4 L677.6 22.6 L684.4 21.7 L691.1 20.9 L697.8 20 L704.5 19.2 L711.2 18.4 L717.9 17.6 L724.5 16.8 L731.2 16 L737.8 15.2 L744.4 14.5 L751 13.8 L757.6 13 L764.2 12.3 L770.8 11.6 L777.4 10.9 L783.9 10.2 L790.5 9.6 L797 8.9 L803.5 8.3 L810 7.6 L816.5 7 L823 6.4 L829.5 5.8 L835.9 5.2 L842.4 4.6 L848.8 4 L855.3 3.5 L861.7 2.9 L868.1 2.4 L874.5 1.9 L880.9 1.3 L887.3 0.8 L893.6 0.3 L900 -0.1"/><path d="M39.3 75.4 L47.6 72.7 L55.9 70.1 L64.2 67.5 L72.4 64.9 L80.7 62.3 L88.9 59.8 L97 57.3 L105.2 54.8 L113.3 52.4 L121.4 49.9 L129.4 47.5 L137.5 45.1 L145.5 42.8 L153.5 40.5 L161.5 38.1 L169.4 35.9 L177.4 33.6 L185.3 31.3 L193.2 29.1 L201 26.9 L208.9 24.7 L216.7 22.6 L224.5 20.5 L232.3 18.3 L240 16.3 L247.7 14.2 L255.5 12.1 L263.1 10.1 L270.8 8.1 L278.5 6.1 L286.1 4.2 L293.7 2.2 L301.3 0.3 L308.9 -1.6 L316.4 -3.5 L323.9 -5.4 L331.4 -7.2 L338.9 -9.1 L346.4 -10.9 L353.9 -12.7 L361.3 -14.4 L368.7 -16.2 L376.1 -17.9 L383.5 -19.6 L390.9 -21.3 L398.2 -23 L405.5 -24.7 L412.8 -26.3 L420.1 -27.9 L427.4 -29.6 L434.7 -31.1 L441.9 -32.7 L449.1 -34.3 L456.3 -35.8 L463.5 -37.3 L470.7 -38.9 L477.8 -40.3 L485 -41.8 L492.1 -43.3 L499.2 -44.7 L506.3 -46.2 L513.4 -47.6 L520.4 -49 L527.5 -50.3 L534.5 -51.7 L541.5 -53.1 L548.5 -54.4 L555.5 -55.7 L562.5 -57 L569.4 -58.3 L576.3 -59.6 L583.3 -60.8 L590.2 -62.1 L597.1 -63.3 L603.9 -64.5 L610.8 -65.7 L617.7 -66.9 L624.5 -68.1 L631.3 -69.2 L638.1 -70.4 L644.9 -71.5 L651.7 -72.6 L658.5 -73.7 L665.2 -74.8 L671.9 -75.9 L678.7 -77 L685.4 -78 L692.1 -79 L698.8 -80.1 L705.4 -81.1 L712.1 -82.1 L718.8 -83.1 L725.4 -84 L732 -85 L738.6 -85.9 L745.2 -86.9 L751.8 -87.8 L758.4 -88.7 L764.9 -89.6 L771.5 -90.5 L778 -91.4 L784.5 -92.2 L791.1 -93.1 L797.6 -93.9 L804 -94.7 L810.5 -95.5 L817 -96.3 L823.4 -97.1 L829.9 -97.9 L836.3 -98.7 L842.7 -99.4 L849.1 -100.2 L855.5 -100.9 L861.9 -101.6 L868.3 -102.3 L874.7 -103 L881 -103.7 L887.3 -104.4 L893.7 -105.1 L900 -105.7"/><path d="M39.3 2.6 L47.7 -0.3 L56 -3.2 L64.4 -6 L72.7 -8.9 L80.9 -11.7 L89.2 -14.5 L97.4 -17.2 L105.6 -19.9 L113.8 -22.6 L121.9 -25.3 L130 -28 L138.1 -30.6 L146.2 -33.2 L154.2 -35.8 L162.2 -38.3 L170.2 -40.8 L178.2 -43.3 L186.1 -45.8 L194 -48.3 L201.9 -50.7 L209.8 -53.1 L217.6 -55.5 L225.5 -57.9 L233.3 -60.2 L241 -62.5 L248.8 -64.8 L256.5 -67.1 L264.3 -69.3 L271.9 -71.6 L279.6 -73.8 L287.3 -75.9 L294.9 -78.1 L302.5 -80.3 L310.1 -82.4 L317.6 -84.5 L325.2 -86.6 L332.7 -88.6 L340.2 -90.7 L347.7 -92.7 L355.2 -94.7 L362.6 -96.7 L370 -98.6 L377.5 -100.6 L384.8 -102.5 L392.2 -104.4 L399.6 -106.3 L406.9 -108.2 L414.2 -110 L421.5 -111.8 L428.8 -113.6 L436 -115.4 L443.3 -117.2 L450.5 -119 L457.7 -120.7 L464.9 -122.4 L472.1 -124.1 L479.2 -125.8 L486.3 -127.5 L493.5 -129.2 L500.6 -130.8 L507.6 -132.4 L514.7 -134 L521.8 -135.6 L528.8 -137.2 L535.8 -138.7 L542.8 -140.3 L549.8 -141.8 L556.8 -143.3 L563.7 -144.8 L570.7 -146.3 L577.6 -147.7 L584.5 -149.2 L591.4 -150.6 L598.3 -152 L605.1 -153.4 L612 -154.8 L618.8 -156.2 L625.6 -157.5 L632.5 -158.9 L639.2 -160.2 L646 -161.5 L652.8 -162.8 L659.5 -164.1 L666.3 -165.4 L673 -166.6 L679.7 -167.9 L686.4 -169.1 L693 -170.3 L699.7 -171.5 L706.4 -172.7 L713 -173.9 L719.6 -175 L726.2 -176.2 L732.8 -177.3 L739.4 -178.4 L746 -179.5 L752.5 -180.6 L759.1 -181.7 L765.6 -182.8 L772.1 -183.8 L778.6 -184.9 L785.1 -185.9 L791.6 -186.9 L798.1 -187.9 L804.6 -188.9 L811 -189.9 L817.4 -190.9 L823.9 -191.8 L830.3 -192.8 L836.7 -193.7 L843 -194.6 L849.4 -195.5 L855.8 -196.4 L862.1 -197.3 L868.5 -198.2 L874.8 -199.1 L881.1 -199.9 L887.4 -200.8 L893.7 -201.6 L900 -202.4"/></g>
<g stroke="#ee9090" stroke-width="1.2" stroke-dasharray="10 3.5"><path d="M39.3 339.9 L51.6 337.1 L63.8 334.4 L76 331.7 L88.2 329.1 L100.3 326.5 L112.3 324 L124.3 321.5 L136.3 319.1 L148.2 316.7 L160.1 314.4 L171.9 312.1 L183.7 309.8 L195.4 307.6 L207.1 305.4 L218.7 303.3 L230.4 301.2 L241.9 299.2 L253.5 297.2 L264.9 295.2 L276.4 293.3 L287.8 291.4 L299.2 289.6 L310.5 287.7 L321.8 286 L333.1 284.2 L344.3 282.5 L355.5 280.9 L366.6 279.3 L377.7 277.7 L388.8 276.1 L399.9 274.6 L410.9 273.1 L421.9 271.7 L432.8 270.2 L443.7 268.9 L454.6 267.5 L465.4 266.2 L476.2 264.9 L487 263.7 L497.8 262.4 L508.5 261.2 L519.2 260.1 L529.8 259 L540.4 257.9 L551 256.8 L561.6 255.8 L572.1 254.7 L582.6 253.8 L593.1 252.8 L603.6 251.9 L614 251 L624.4 250.1 L634.7 249.3 L645.1 248.5 L655.4 247.7 L665.7 246.9 L675.9 246.2 L686.2 245.5 L696.4 244.8 L706.5 244.2 L716.7 243.6 L726.8 243 L736.9 242.4 L747 241.8 L757 241.3 L767.1 240.8 L777.1 240.3 L787 239.9 L797 239.4 L806.9 239 L816.8 238.6 L826.7 238.3 L836.6 238 L846.4 237.6 L856.2 237.3 L866 237.1 L875.8 236.8 L885.6 236.6 L895.3 236.4 L905 236.2"/><path d="M39.3 91.3 L51.8 87.4 L64.3 83.5 L76.7 79.7 L89.1 75.9 L101.4 72.2 L113.7 68.6 L125.9 65 L138 61.5 L150.1 58 L162.1 54.6 L174.1 51.2 L186 47.9 L197.9 44.6 L209.8 41.4 L221.5 38.3 L233.3 35.1 L245 32.1 L256.6 29 L268.2 26.1 L279.7 23.1 L291.2 20.3 L302.7 17.4 L314.1 14.6 L325.5 11.9 L336.8 9.2 L348.1 6.5 L359.3 3.9 L370.5 1.3 L381.6 -1.2 L392.8 -3.7 L403.8 -6.2 L414.9 -8.6 L425.8 -11 L436.8 -13.3 L447.7 -15.6 L458.6 -17.9 L469.4 -20.1 L480.2 -22.3 L491 -24.5 L501.7 -26.6 L512.4 -28.6 L523.1 -30.7 L533.7 -32.7 L544.3 -34.7 L554.8 -36.6 L565.3 -38.5 L575.8 -40.4 L586.3 -42.2 L596.7 -44 L607.1 -45.8 L617.4 -47.5 L627.8 -49.2 L638 -50.9 L648.3 -52.5 L658.5 -54.2 L668.7 -55.7 L678.9 -57.3 L689 -58.8 L699.1 -60.3 L709.2 -61.8 L719.3 -63.2 L729.3 -64.6 L739.3 -66 L749.2 -67.3 L759.2 -68.6 L769.1 -69.9 L779 -71.2 L788.8 -72.4 L798.6 -73.7 L808.4 -74.8 L818.2 -76 L827.9 -77.1 L837.7 -78.2 L847.4 -79.3 L857 -80.4 L866.7 -81.4 L876.3 -82.4 L885.9 -83.4 L895.5 -84.3 L905 -85.3"/></g>
</g>
<g fill="#000" stroke="#000" stroke-width="0.22"><g transform="translate(83.8 772.1)"><text x="0" y="0" font-size="10" text-anchor="middle">-40</text></g><g transform="translate(172.5 765.3)"><text x="0" y="0" font-size="10" text-anchor="middle">-30</text></g><g transform="translate(259.3 760.3)"><text x="0" y="0" font-size="10" text-anchor="middle">-20</text></g><g transform="translate(344.3 757.2)"><text x="0" y="0" font-size="10" text-anchor="middle">-10</text></g><g transform="translate(427.7 755.7)"><text x="0" y="0" font-size="10" text-anchor="middle">0</text></g><g transform="translate(509.5 755.7)"><text x="0" y="0" font-size="10" text-anchor="middle">10</text></g><g transform="translate(589.9 757.1)"><text x="0" y="0" font-size="10" text-anchor="middle">20</text></g><g transform="translate(669 759.8)"><text x="0" y="0" font-size="10" text-anchor="middle">30</text></g><g transform="translate(746.9 763.8)"><text x="0" y="0" font-size="10" text-anchor="middle">40</text></g><g transform="translate(823.6 769)"><text x="0" y="0" font-size="10" text-anchor="middle">50</text></g><g transform="translate(36.2 9.8)"><text x="0" y="0" font-size="10" text-anchor="end">63125ft</text></g><g transform="translate(41 -1.7)"><text x="0" y="0" font-size="10" text-anchor="start">50[hPa]</text></g><g transform="translate(36.2 78.1)"><text x="0" y="0" font-size="10" text-anchor="end">56890ft</text></g><g transform="translate(41 71.6)"><text x="0" y="0" font-size="10" text-anchor="start">70[hPa]</text></g><g transform="translate(36.2 158.6)"><text x="0" y="0" font-size="10" text-anchor="end">50080ft</text></g><g transform="translate(41 152.8)"><text x="0" y="0" font-size="10" text-anchor="start">100[hPa]</text></g><g transform="translate(36.2 254.4)"><text x="0" y="0" font-size="10" text-anchor="end">42095ft</text></g><g transform="translate(41 249.4)"><text x="0" y="0" font-size="10" text-anchor="start">150[hPa]</text></g><g transform="translate(36.2 325)"><text x="0" y="0" font-size="10" text-anchor="end">36495ft</text></g><g transform="translate(41 320.6)"><text x="0" y="0" font-size="10" text-anchor="start">200[hPa]</text></g><g transform="translate(36.2 381.4)"><text x="0" y="0" font-size="10" text-anchor="end">32165ft</text></g><g transform="translate(41 377.4)"><text x="0" y="0" font-size="10" text-anchor="start">250[hPa]</text></g><g transform="translate(36.2 428.5)"><text x="0" y="0" font-size="10" text-anchor="end">28490ft</text></g><g transform="translate(41 424.8)"><text x="0" y="0" font-size="10" text-anchor="start">300[hPa]</text></g><g transform="translate(36.2 504.5)"><text x="0" y="0" font-size="10" text-anchor="end">22350ft</text></g><g transform="translate(41 501.5)"><text x="0" y="0" font-size="10" text-anchor="start">400[hPa]</text></g><g transform="translate(36.2 565)"><text x="0" y="0" font-size="10" text-anchor="end">17270ft</text></g><g transform="translate(41 562.5)"><text x="0" y="0" font-size="10" text-anchor="start">500[hPa]</text></g><g transform="translate(36.2 615.4)"><text x="0" y="0" font-size="10" text-anchor="end">12910ft</text></g><g transform="translate(41 613.3)"><text x="0" y="0" font-size="10" text-anchor="start">600[hPa]</text></g><g transform="translate(36.2 658.6)"><text x="0" y="0" font-size="10" text-anchor="end">9100ft</text></g><g transform="translate(41 656.9)"><text x="0" y="0" font-size="10" text-anchor="start">700[hPa]</text></g><g transform="translate(36.2 714)"><text x="0" y="0" font-size="10" text-anchor="end">4170ft</text></g><g transform="translate(41 712.7)"><text x="0" y="0" font-size="10" text-anchor="start">850[hPa]</text></g><g transform="translate(41 759.6)"><text x="0" y="0" font-size="10" text-anchor="start">1000[hPa]</text></g><g transform="translate(41 767.3)"><text x="0" y="0" font-size="10" text-anchor="start">1050[hPa]</text></g><g transform="translate(898 46.8)"><text x="0" y="0" font-size="10" text-anchor="end">-30</text></g><g transform="translate(898 128.6)"><text x="0" y="0" font-size="10" text-anchor="end">-20</text></g><g transform="translate(898 210.5)"><text x="0" y="0" font-size="10" text-anchor="end">-10</text></g><g transform="translate(898 292.3)"><text x="0" y="0" font-size="10" text-anchor="end">0</text></g><g transform="translate(898 374.2)"><text x="0" y="0" font-size="10" text-anchor="end">10</text></g><g transform="translate(898 456)"><text x="0" y="0" font-size="10" text-anchor="end">20</text></g><g transform="translate(898 537.9)"><text x="0" y="0" font-size="10" text-anchor="end">30</text></g><g transform="translate(898 619.7)"><text x="0" y="0" font-size="10" text-anchor="end">40</text></g><g transform="translate(898 701.6)"><text x="0" y="0" font-size="10" text-anchor="end">50</text></g><g transform="translate(797 10.5)"><text x="0" y="0" font-size="10" text-anchor="start">100[hPa]</text></g><g transform="translate(254 11)"><text x="0" y="0" font-size="10" text-anchor="start">70[hPa]</text></g><g transform="translate(98.1 768.7) rotate(-53.1)"><text x="0" y="0" font-size="10" text-anchor="start">0.125</text></g><g transform="translate(160 763.9) rotate(-53.7)"><text x="0" y="0" font-size="10" text-anchor="start">0.25</text></g><g transform="translate(225.2 759.8) rotate(-54.4)"><text x="0" y="0" font-size="10" text-anchor="start">0.5</text></g><g transform="translate(294 756.4) rotate(-55.2)"><text x="0" y="0" font-size="10" text-anchor="start">1</text></g><g transform="translate(366.7 754.1) rotate(-56)"><text x="0" y="0" font-size="10" text-anchor="start">2</text></g><g transform="translate(443.8 753) rotate(-57)"><text x="0" y="0" font-size="10" text-anchor="start">4</text></g><g transform="translate(525.6 753.2) rotate(-58.1)"><text x="0" y="0" font-size="10" text-anchor="start">8</text></g><g transform="translate(612.4 755) rotate(-59.3)"><text x="0" y="0" font-size="10" text-anchor="start">16</text></g><g transform="translate(704.6 758.7) rotate(-60.7)"><text x="0" y="0" font-size="10" text-anchor="start">32</text></g><g transform="translate(802 764.5) rotate(-62.3)"><text x="0" y="0" font-size="10" text-anchor="start">64</text></g><g transform="translate(65.7 717.1) rotate(45)"><text x="0" y="3.6" font-size="10" text-anchor="middle">-40</text></g><g transform="translate(116.1 667.4) rotate(45)"><text x="0" y="3.6" font-size="10" text-anchor="middle">-30</text></g><g transform="translate(166.8 616.1) rotate(45)"><text x="0" y="3.6" font-size="10" text-anchor="middle">-20</text></g><g transform="translate(221.7 561) rotate(45)"><text x="0" y="3.6" font-size="10" text-anchor="middle">-10</text></g><g transform="translate(285.5 497.6) rotate(45)"><text x="0" y="3.6" font-size="10" text-anchor="middle">0</text></g><g transform="translate(365.1 417.1) rotate(45)"><text x="0" y="3.6" font-size="10" text-anchor="middle">10</text></g><g transform="translate(472.7 307.2) rotate(45)"><text x="0" y="3.6" font-size="10" text-anchor="middle">20</text></g><g transform="translate(630 152) rotate(45)"><text x="0" y="3.6" font-size="10" text-anchor="middle">30</text></g></g>
<g clip-path="url(#c)" fill="none"><path d="M427.7 752.1 L1184.7 -5" stroke="#7f7fe6" stroke-width="1" stroke-dasharray="10 5"/></g>
<g fill="none" stroke-linejoin="round" stroke-linecap="round">
<path d="M573.8 773 L560.4 734.2 L549.4 700 L521.3 600 L503.9 540 L469.6 419.9 L439.9 315.9 L432 285.3 L447.8 270 L570 147.2 L617.2 100 L717.8 0" stroke="#808080" stroke-width="1.6"/>
<path d="M472.6 704.5 L476 700.2 L480 697.2 L484 694.9 L488.5 693.3 L489 695.4 L485 698.2 L480.8 701.6 L476 704.9 L473.5 706.5 Z" fill="#84d472" stroke="#9ade8c" stroke-width="0.8"/>
<path d="M469 723.3 C469 723.3 471.2 720 471.3 717.9 C471.4 715.8 470.9 713.1 469.9 710.7 C468.9 708.3 467.2 705.2 465.4 703.4 C463.6 701.6 461.6 700.6 459 699.8 C456.4 699 452.8 698.8 450 698.5 C447.2 698.2 450.4 698.7 442.2 698.1 C434 697.5 414.9 695.8 400.7 694.7 C386.5 693.6 367.9 692.7 357.2 691.5 C346.5 690.3 340.8 689.1 336.4 687.7 C332 686.3 331.6 685.7 330.8 683 C330 680.3 330.4 675.5 331.7 671.7 C332.9 667.9 335 663.6 338.3 660.3 C341.6 657 345.9 654.9 351.6 651.8 C357.3 648.6 366 644.7 372.3 641.4 C378.6 638.1 384.9 635.1 389.3 632 C393.7 628.9 396.6 625.4 398.8 622.6 C401 619.8 401.8 617 402.6 615 C403.4 613 402.8 614.2 403.5 610.7 C404.2 607.2 405.9 599.6 406.6 594.1 C407.3 588.6 408.5 582.4 407.6 577.6 C406.7 572.8 405.5 569.7 401.4 565.2 C397.3 560.7 389.7 557.1 382.8 550.7 C375.9 544.3 366.9 533.5 360 526.9 C353.1 520.3 347.3 516.4 341.4 511.4 C335.5 506.4 329.3 501.7 324.8 496.9 C320.3 492.1 317.1 486.9 314.5 482.4 C311.9 477.9 310.4 472.9 309.3 470 C308.2 467.1 308.2 468.4 307.6 464.8 C307 461.2 305.5 453.8 305.5 448.3 C305.5 442.8 306.1 437.6 307.6 431.7 C309.2 425.8 311.4 419.8 314.8 413.1 C318.2 406.4 328.3 391.4 328.3 391.4 C328.3 391.4 326.8 379 326.8 379 C326.8 379 322 373.6 319 368.6 C316 363.6 311.4 355 308.6 349 C305.8 343 303.8 338.1 302.4 332.4 C301 326.7 300.6 319.1 300.3 314.8 C300 310.5 299.2 311.1 300.7 306.6 C302.1 302.1 304.4 294.8 309 287.9 C313.6 281 323.6 272.4 328.6 265.2 C333.6 258 336.9 251.6 339 244.5 C341.1 237.4 341.7 229 341.5 222.8 C341.3 216.6 338.8 212.2 337.9 207.2 C337 202.2 336.5 198 335.9 192.8 C335.3 187.6 334.5 176 334.5 176 C334.5 176 349.5 146.2 349.5 146.2 C349.5 146.2 474.8 0 474.8 0" stroke="#cc1212" stroke-width="2.2"/>
<path d="M479.4 723.3 C479.4 723.3 482.6 721.5 482.6 721.5 C482.6 721.5 482 719.1 480.8 717 C479.6 714.9 476.9 711.2 475.3 708.9 C473.7 706.6 472.1 705.1 471.3 703.4 C470.5 701.7 470 700.2 470.4 698.9 C470.8 697.5 471.5 696.6 473.5 695.3 C475.5 693.9 480.5 692.2 482.6 690.8 C484.7 689.4 485.3 688.8 486.2 687.1 C487.1 685.4 487.1 683.3 488 680.8 C488.9 678.2 490.2 675.3 491.6 671.8 C493 668.3 495.3 664.9 496.2 660 C497.1 655.1 497.6 648.2 496.8 642.5 C496 636.8 493.9 631.8 491.6 625.9 C489.4 620 485.9 614.2 483.3 607.3 C480.7 600.4 478 591 476.1 584.5 C474.2 578 473.5 573.9 471.9 568 C470.3 562.1 468.8 555.9 466.7 549.3 C464.6 542.7 462.1 535.1 459.5 528.6 C456.9 522.1 454.3 516.5 451.2 510 C448.1 503.5 445.4 498.1 440.8 489.8 C436.2 481.5 429.8 470.5 423.6 460.3 C417.5 450.1 410.4 438.6 403.9 428.4 C397.3 418.1 390.4 408.2 384.3 398.8 C378.2 389.4 372.3 381.3 367 371.8 C361.7 362.3 355.9 349.7 352.5 342 C349.1 334.3 347.9 329.7 346.7 325.4 C345.5 321.1 345.4 319.4 345.1 316.4 C344.8 313.4 345 310.1 345.1 307.3 C345.2 304.5 345.1 302.5 346 299.5 C346.9 296.5 349 292.4 350.5 289.2 C352 286 352.3 283.8 355.1 280.1 C357.9 276.4 363.7 270.9 367.4 267.2 C371.1 263.5 373 261.3 377.1 258.1 C381.2 254.9 387.2 250.8 392 247.8 C396.8 244.8 395.4 246.1 405.6 240 C415.8 233.9 439.8 219.4 453.3 211.1 C466.8 202.8 475.6 197.7 486.7 190.3 C497.8 182.9 508 175 520 166.7 C532 158.4 544.8 150.3 558.9 140.3 C573 130.3 604.9 106.7 604.9 106.7 C604.9 106.7 640.4 69.3 640.4 69.3 C640.4 69.3 644.9 58.9 647.6 53.3 C650.3 47.7 653.5 41.2 656.4 35.6 C659.3 30 661.7 25.5 665.3 19.6 C668.9 13.7 677.8 0 677.8 0" stroke="#000" stroke-width="2.2"/>
</g>
<g fill="none" stroke="#222" stroke-width="1"><path d="M804.5 6.3 L782 10.5 M782 10.5 L776 2.9 M785.8 9.8 L779.8 2.2 M789.7 9.1 L783.6 1.5 M793.5 8.4 L787.5 0.8"/><path d="M804.3 345.3 L781.7 347.5 M781.7 347.5 L776.3 339.4 M785.6 347.1 L780.2 339 M789.5 346.7 L784.1 338.7"/><path d="M804.3 438.6 L783.5 448.5 M783.5 448.5 L775.7 442.7 M787 446.8 L779.2 441 M790.5 445.1 L782.8 439.4"/><path d="M804.7 512.5 L782.7 520.3 M782.7 520.3 L775.5 513.7 M786.4 519 L779.2 512.4 M790.1 517.7 L782.9 511.1 M793.7 516.4 L790 513"/><path d="M804.7 626.3 L781.3 628.3 M781.3 628.3 L776 620.2 M785.2 628 L779.9 619.8 M789.1 627.6 L783.8 619.5 M793 627.3 L787.7 619.2"/><path d="M804.6 693.2 L782.8 700.6 M782.8 700.6 L775.7 694 M786.5 699.3 L779.4 692.7 M790.2 698.1 L783.1 691.4"/><path d="M804.6 721.9 L784.4 732.8 M784.4 732.8 L776.3 727.4 M787.8 730.9 L779.8 725.6 M791.3 729.1 L783.2 723.7 M794.7 727.2 L786.6 721.9"/></g>
<g stroke="#000" stroke-width="1" fill="#000"><path d="M781 218.5 L804.4 216.8"/><path d="M781 211 L781 219 L787 219 Z"/><path d="M781 240 L804.4 240"/><path d="M781 232.2 L781 240 L787 240 Z"/></g>
<g fill="#fff" stroke="#333" stroke-width="0.9"><path d="M804.4 230.7 L812.2 239 L804.4 247.6 L796.7 239 Z" fill="none"/></g>
<text x="804.4" y="243" font-size="9" text-anchor="middle" fill="#333">T</text>
<rect x="39.5" y="0.5" width="227" height="106.5" fill="#fff" stroke="#000" stroke-width="1"/>
<g fill="#000" stroke="#000" stroke-width="0.15">
<text x="41.5" y="20.6" font-size="13.2" textLength="97.8" lengthAdjust="spacingAndGlyphs" stroke="#000" stroke-width="0.5">Sounding Indices</text>
<text x="43.4" y="36.8" font-size="10.6" textLength="212.2" lengthAdjust="spacingAndGlyphs">UWC/IG 5km/25.11.2024 15:00/+25 h/BIIS</text>
<text x="43.5" y="52.6" font-size="10.6" textLength="36.4" lengthAdjust="spacingAndGlyphs">Position</text>
<text x="152.3" y="52.6" font-size="10.6" font-weight="bold" textLength="83" lengthAdjust="spacingAndGlyphs">66°03'N 23°08'W</text>
<text x="43.5" y="68.5" font-size="10.6" textLength="42.4" lengthAdjust="spacingAndGlyphs">Elevation</text>
<text x="152.3" y="68.5" font-size="10.6" font-weight="bold" textLength="31" lengthAdjust="spacingAndGlyphs">1070ft</text>
<text x="43.5" y="84.4" font-size="10.6">Name</text>
<text x="152.3" y="84.4" font-size="10.6" font-weight="bold" textLength="46.9" lengthAdjust="spacingAndGlyphs">Ísafjörður</text>
<text x="43.5" y="100.3" font-size="10.6" textLength="78.2" lengthAdjust="spacingAndGlyphs">Zero Degree (A)</text>
<text x="152.3" y="100.3" font-size="10.6" font-weight="bold" textLength="31" lengthAdjust="spacingAndGlyphs">2395ft</text>
</g>
</svg></body></html>
